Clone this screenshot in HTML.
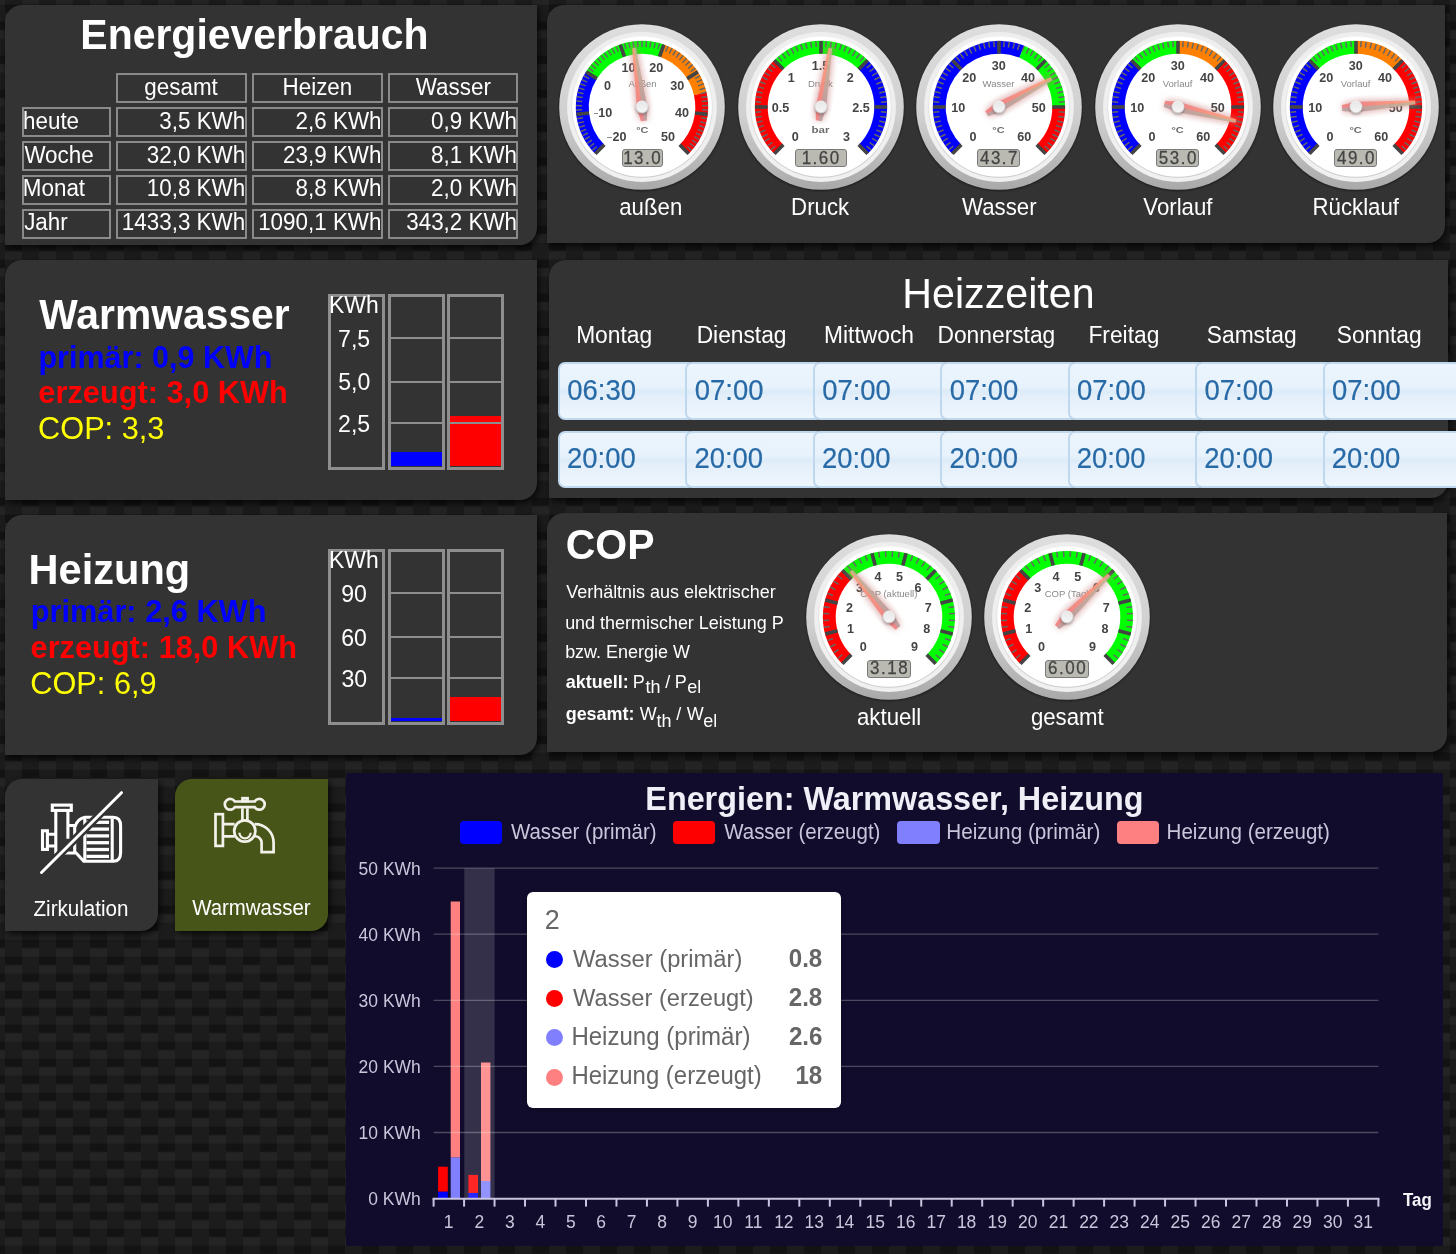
<!DOCTYPE html>
<html><head><meta charset="utf-8">
<style>
html,body{margin:0;padding:0;width:1456px;height:1254px;overflow:hidden;background:#1b1b1b;font-family:'Liberation Sans',sans-serif;}
.p{position:absolute;background:#333;border-radius:17px 0 17px 0;box-shadow:2px 3px 7px rgba(0,0,0,.75);}
</style></head><body>
<svg style="position:absolute;left:0;top:0" width="1456" height="1254">
<defs><pattern id="cf" x="5" y="4.6" width="34" height="34" patternUnits="userSpaceOnUse">
<rect x="0" y="0" width="17" height="8.5" fill="#131313"/>
<rect x="0" y="8.5" width="17" height="8.5" fill="#242424"/>
<rect x="0" y="17" width="17" height="17" fill="#1c1c1c"/>
<rect x="17" y="0" width="17" height="17" fill="#1c1c1c"/>
<rect x="17" y="17" width="17" height="8.5" fill="#131313"/>
<rect x="17" y="25.5" width="17" height="8.5" fill="#242424"/>
</pattern></defs>
<rect width="1456" height="1254" fill="url(#cf)"/>
</svg>
<div class="p" style="left:5px;top:5px;width:532px;height:240px;"></div>
<div class="p" style="left:547px;top:5px;width:898px;height:238px;"></div>
<div class="p" style="left:5px;top:260px;width:532px;height:240px;"></div>
<div class="p" style="left:549px;top:260px;width:899px;height:238px;"></div>
<div class="p" style="left:5px;top:515px;width:532px;height:240px;"></div>
<div class="p" style="left:547px;top:513px;width:900px;height:239px;"></div>
<div class="p" style="left:5px;top:779px;width:153px;height:152px;"></div>
<div class="p" style="left:175px;top:779px;width:153px;height:152px;background:#485519;"></div>
<div style="position:absolute;left:346px;top:773px;width:1097px;height:472.6px;background:#110c2b;"></div>

<div style="position:absolute;left:80.33px;top:13.24px;font:bold 40.96px/45.748px 'Liberation Sans',sans-serif;color:#fff;white-space:nowrap;transform:scaleY(1.045);transform-origin:0 37.06px;">Energieverbrauch</div>
<div style="position:absolute;left:116.10px;top:73.20px;width:130.60px;height:29.60px;box-sizing:border-box;border:2px solid #8a8a8a;"></div>
<div style="position:absolute;left:144.31px;top:75.02px;font:normal 22.41px/25.035px 'Liberation Sans',sans-serif;color:#fff;white-space:nowrap;transform:scaleY(1.045);transform-origin:0 20.28px;">gesamt</div>
<div style="position:absolute;left:252.20px;top:73.20px;width:130.80px;height:29.60px;box-sizing:border-box;border:2px solid #8a8a8a;"></div>
<div style="position:absolute;left:282.52px;top:75.02px;font:normal 22.41px/25.035px 'Liberation Sans',sans-serif;color:#fff;white-space:nowrap;transform:scaleY(1.045);transform-origin:0 20.28px;">Heizen</div>
<div style="position:absolute;left:388.10px;top:73.20px;width:130.40px;height:29.60px;box-sizing:border-box;border:2px solid #8a8a8a;"></div>
<div style="position:absolute;left:415.76px;top:75.02px;font:normal 22.41px/25.035px 'Liberation Sans',sans-serif;color:#fff;white-space:nowrap;transform:scaleY(1.045);transform-origin:0 20.28px;">Wasser</div>
<div style="position:absolute;left:22.20px;top:107.10px;width:88.60px;height:29.60px;box-sizing:border-box;border:2px solid #8a8a8a;"></div>
<div style="position:absolute;left:23.03px;top:108.72px;font:normal 22.41px/25.035px 'Liberation Sans',sans-serif;color:#fff;white-space:nowrap;transform:scaleY(1.045);transform-origin:0 20.28px;">heute</div>
<div style="position:absolute;left:116.10px;top:107.10px;width:130.60px;height:29.60px;box-sizing:border-box;border:2px solid #8a8a8a;"></div>
<div style="position:absolute;left:159.30px;top:108.72px;font:normal 22.41px/25.035px 'Liberation Sans',sans-serif;color:#fff;white-space:nowrap;transform:scaleY(1.045);transform-origin:0 20.28px;">3,5 KWh</div>
<div style="position:absolute;left:252.20px;top:107.10px;width:130.80px;height:29.60px;box-sizing:border-box;border:2px solid #8a8a8a;"></div>
<div style="position:absolute;left:295.60px;top:108.72px;font:normal 22.41px/25.035px 'Liberation Sans',sans-serif;color:#fff;white-space:nowrap;transform:scaleY(1.045);transform-origin:0 20.28px;">2,6 KWh</div>
<div style="position:absolute;left:388.10px;top:107.10px;width:130.40px;height:29.60px;box-sizing:border-box;border:2px solid #8a8a8a;"></div>
<div style="position:absolute;left:431.10px;top:108.72px;font:normal 22.41px/25.035px 'Liberation Sans',sans-serif;color:#fff;white-space:nowrap;transform:scaleY(1.045);transform-origin:0 20.28px;">0,9 KWh</div>
<div style="position:absolute;left:22.20px;top:141.00px;width:88.60px;height:29.60px;box-sizing:border-box;border:2px solid #8a8a8a;"></div>
<div style="position:absolute;left:24.38px;top:142.62px;font:normal 22.41px/25.035px 'Liberation Sans',sans-serif;color:#fff;white-space:nowrap;transform:scaleY(1.045);transform-origin:0 20.28px;">Woche</div>
<div style="position:absolute;left:116.10px;top:141.00px;width:130.60px;height:29.60px;box-sizing:border-box;border:2px solid #8a8a8a;"></div>
<div style="position:absolute;left:146.75px;top:142.62px;font:normal 22.41px/25.035px 'Liberation Sans',sans-serif;color:#fff;white-space:nowrap;transform:scaleY(1.045);transform-origin:0 20.28px;">32,0 KWh</div>
<div style="position:absolute;left:252.20px;top:141.00px;width:130.80px;height:29.60px;box-sizing:border-box;border:2px solid #8a8a8a;"></div>
<div style="position:absolute;left:283.05px;top:142.62px;font:normal 22.41px/25.035px 'Liberation Sans',sans-serif;color:#fff;white-space:nowrap;transform:scaleY(1.045);transform-origin:0 20.28px;">23,9 KWh</div>
<div style="position:absolute;left:388.10px;top:141.00px;width:130.40px;height:29.60px;box-sizing:border-box;border:2px solid #8a8a8a;"></div>
<div style="position:absolute;left:431.10px;top:142.62px;font:normal 22.41px/25.035px 'Liberation Sans',sans-serif;color:#fff;white-space:nowrap;transform:scaleY(1.045);transform-origin:0 20.28px;">8,1 KWh</div>
<div style="position:absolute;left:22.20px;top:175.20px;width:88.60px;height:29.60px;box-sizing:border-box;border:2px solid #8a8a8a;"></div>
<div style="position:absolute;left:22.81px;top:176.42px;font:normal 22.41px/25.035px 'Liberation Sans',sans-serif;color:#fff;white-space:nowrap;transform:scaleY(1.045);transform-origin:0 20.28px;">Monat</div>
<div style="position:absolute;left:116.10px;top:175.20px;width:130.60px;height:29.60px;box-sizing:border-box;border:2px solid #8a8a8a;"></div>
<div style="position:absolute;left:146.75px;top:176.42px;font:normal 22.41px/25.035px 'Liberation Sans',sans-serif;color:#fff;white-space:nowrap;transform:scaleY(1.045);transform-origin:0 20.28px;">10,8 KWh</div>
<div style="position:absolute;left:252.20px;top:175.20px;width:130.80px;height:29.60px;box-sizing:border-box;border:2px solid #8a8a8a;"></div>
<div style="position:absolute;left:295.60px;top:176.42px;font:normal 22.41px/25.035px 'Liberation Sans',sans-serif;color:#fff;white-space:nowrap;transform:scaleY(1.045);transform-origin:0 20.28px;">8,8 KWh</div>
<div style="position:absolute;left:388.10px;top:175.20px;width:130.40px;height:29.60px;box-sizing:border-box;border:2px solid #8a8a8a;"></div>
<div style="position:absolute;left:431.10px;top:176.42px;font:normal 22.41px/25.035px 'Liberation Sans',sans-serif;color:#fff;white-space:nowrap;transform:scaleY(1.045);transform-origin:0 20.28px;">2,0 KWh</div>
<div style="position:absolute;left:22.20px;top:209.20px;width:88.60px;height:29.60px;box-sizing:border-box;border:2px solid #8a8a8a;"></div>
<div style="position:absolute;left:24.15px;top:210.32px;font:normal 22.41px/25.035px 'Liberation Sans',sans-serif;color:#fff;white-space:nowrap;transform:scaleY(1.045);transform-origin:0 20.28px;">Jahr</div>
<div style="position:absolute;left:116.10px;top:209.20px;width:130.60px;height:29.60px;box-sizing:border-box;border:2px solid #8a8a8a;"></div>
<div style="position:absolute;left:121.87px;top:210.32px;font:normal 22.41px/25.035px 'Liberation Sans',sans-serif;color:#fff;white-space:nowrap;transform:scaleY(1.045);transform-origin:0 20.28px;">1433,3 KWh</div>
<div style="position:absolute;left:252.20px;top:209.20px;width:130.80px;height:29.60px;box-sizing:border-box;border:2px solid #8a8a8a;"></div>
<div style="position:absolute;left:258.17px;top:210.32px;font:normal 22.41px/25.035px 'Liberation Sans',sans-serif;color:#fff;white-space:nowrap;transform:scaleY(1.045);transform-origin:0 20.28px;">1090,1 KWh</div>
<div style="position:absolute;left:388.10px;top:209.20px;width:130.40px;height:29.60px;box-sizing:border-box;border:2px solid #8a8a8a;"></div>
<div style="position:absolute;left:406.23px;top:210.32px;font:normal 22.41px/25.035px 'Liberation Sans',sans-serif;color:#fff;white-space:nowrap;transform:scaleY(1.045);transform-origin:0 20.28px;">343,2 KWh</div>
<div style="position:absolute;left:39.30px;top:292.55px;font:bold 40.83px/45.611px 'Liberation Sans',sans-serif;color:#fff;white-space:nowrap;transform:scaleY(1.045);transform-origin:0 36.95px;">Warmwasser</div>
<div style="position:absolute;left:38.46px;top:339.87px;font:bold 30.53px/34.103px 'Liberation Sans',sans-serif;color:#0000ff;white-space:nowrap;transform:scaleY(1.045);transform-origin:0 27.63px;">primär: 0,9 KWh</div>
<div style="position:absolute;left:38.37px;top:375.67px;font:bold 30.75px/34.347px 'Liberation Sans',sans-serif;color:#ff0000;white-space:nowrap;transform:scaleY(1.045);transform-origin:0 27.83px;">erzeugt: 3,0 KWh</div>
<div style="position:absolute;left:38.06px;top:411.50px;font:normal 30.72px/34.316px 'Liberation Sans',sans-serif;color:#ffff00;white-space:nowrap;transform:scaleY(1.045);transform-origin:0 27.80px;">COP: 3,3</div>
<div style="position:absolute;left:328.10px;top:294.00px;width:56.95px;height:176.10px;box-sizing:border-box;border:3.1px solid #8e8e8e;"></div>
<div style="position:absolute;left:387.90px;top:294.00px;width:57.00px;height:176.10px;box-sizing:border-box;border:3.1px solid #8e8e8e;"></div>
<div style="position:absolute;left:447.00px;top:294.00px;width:57.00px;height:176.10px;box-sizing:border-box;border:3.1px solid #8e8e8e;"></div>
<div style="position:absolute;left:391.00px;top:452.00px;width:51.00px;height:14.20px;box-sizing:border-box;background:#0000ff;"></div>
<div style="position:absolute;left:450.00px;top:416.00px;width:51.00px;height:50.20px;box-sizing:border-box;background:#ff0000;"></div>
<div style="position:absolute;left:387.90px;top:336.90px;width:57.00px;height:2.15px;box-sizing:border-box;background:#8e8e8e;"></div>
<div style="position:absolute;left:447.00px;top:336.90px;width:57.00px;height:2.15px;box-sizing:border-box;background:#8e8e8e;"></div>
<div style="position:absolute;left:387.90px;top:381.10px;width:57.00px;height:2.15px;box-sizing:border-box;background:#8e8e8e;"></div>
<div style="position:absolute;left:447.00px;top:381.10px;width:57.00px;height:2.15px;box-sizing:border-box;background:#8e8e8e;"></div>
<div style="position:absolute;left:387.90px;top:421.90px;width:57.00px;height:2.15px;box-sizing:border-box;background:#8e8e8e;"></div>
<div style="position:absolute;left:447.00px;top:421.90px;width:57.00px;height:2.15px;box-sizing:border-box;background:#8e8e8e;"></div>
<div style="position:absolute;left:329.07px;top:293.06px;font:normal 22.92px/25.603px 'Liberation Sans',sans-serif;color:#fff;white-space:nowrap;transform:scaleY(1.045);transform-origin:0 20.74px;">KWh</div>
<div style="position:absolute;left:338.05px;top:326.82px;font:normal 23.08px/25.777px 'Liberation Sans',sans-serif;color:#fff;white-space:nowrap;transform:scaleY(1.045);transform-origin:0 20.88px;">7,5</div>
<div style="position:absolute;left:338.16px;top:370.32px;font:normal 23.08px/25.777px 'Liberation Sans',sans-serif;color:#fff;white-space:nowrap;transform:scaleY(1.045);transform-origin:0 20.88px;">5,0</div>
<div style="position:absolute;left:338.05px;top:411.82px;font:normal 23.08px/25.777px 'Liberation Sans',sans-serif;color:#fff;white-space:nowrap;transform:scaleY(1.045);transform-origin:0 20.88px;">2,5</div>
<div style="position:absolute;left:28.59px;top:547.10px;font:bold 41.55px/46.408px 'Liberation Sans',sans-serif;color:#fff;white-space:nowrap;transform:scaleY(1.045);transform-origin:0 37.60px;">Heizung</div>
<div style="position:absolute;left:30.65px;top:594.87px;font:bold 30.76px/34.354px 'Liberation Sans',sans-serif;color:#0000ff;white-space:nowrap;transform:scaleY(1.045);transform-origin:0 27.83px;">primär: 2,6 KWh</div>
<div style="position:absolute;left:30.57px;top:630.88px;font:bold 30.74px/34.331px 'Liberation Sans',sans-serif;color:#ff0000;white-space:nowrap;transform:scaleY(1.045);transform-origin:0 27.82px;">erzeugt: 18,0 KWh</div>
<div style="position:absolute;left:30.26px;top:666.70px;font:normal 30.72px/34.316px 'Liberation Sans',sans-serif;color:#ffff00;white-space:nowrap;transform:scaleY(1.045);transform-origin:0 27.80px;">COP: 6,9</div>
<div style="position:absolute;left:328.10px;top:549.20px;width:56.95px;height:176.10px;box-sizing:border-box;border:3.1px solid #8e8e8e;"></div>
<div style="position:absolute;left:387.90px;top:549.20px;width:57.00px;height:176.10px;box-sizing:border-box;border:3.1px solid #8e8e8e;"></div>
<div style="position:absolute;left:447.00px;top:549.20px;width:57.00px;height:176.10px;box-sizing:border-box;border:3.1px solid #8e8e8e;"></div>
<div style="position:absolute;left:391.00px;top:718.40px;width:51.00px;height:3.00px;box-sizing:border-box;background:#0000ff;"></div>
<div style="position:absolute;left:450.00px;top:696.80px;width:51.00px;height:24.60px;box-sizing:border-box;background:#ff0000;"></div>
<div style="position:absolute;left:387.90px;top:592.10px;width:57.00px;height:2.15px;box-sizing:border-box;background:#8e8e8e;"></div>
<div style="position:absolute;left:447.00px;top:592.10px;width:57.00px;height:2.15px;box-sizing:border-box;background:#8e8e8e;"></div>
<div style="position:absolute;left:387.90px;top:636.30px;width:57.00px;height:2.15px;box-sizing:border-box;background:#8e8e8e;"></div>
<div style="position:absolute;left:447.00px;top:636.30px;width:57.00px;height:2.15px;box-sizing:border-box;background:#8e8e8e;"></div>
<div style="position:absolute;left:387.90px;top:677.10px;width:57.00px;height:2.15px;box-sizing:border-box;background:#8e8e8e;"></div>
<div style="position:absolute;left:447.00px;top:677.10px;width:57.00px;height:2.15px;box-sizing:border-box;background:#8e8e8e;"></div>
<div style="position:absolute;left:329.07px;top:548.26px;font:normal 22.92px/25.603px 'Liberation Sans',sans-serif;color:#fff;white-space:nowrap;transform:scaleY(1.045);transform-origin:0 20.74px;">KWh</div>
<div style="position:absolute;left:341.28px;top:582.02px;font:normal 23.08px/25.777px 'Liberation Sans',sans-serif;color:#fff;white-space:nowrap;transform:scaleY(1.045);transform-origin:0 20.88px;">90</div>
<div style="position:absolute;left:341.28px;top:625.52px;font:normal 23.08px/25.777px 'Liberation Sans',sans-serif;color:#fff;white-space:nowrap;transform:scaleY(1.045);transform-origin:0 20.88px;">60</div>
<div style="position:absolute;left:341.39px;top:667.02px;font:normal 23.08px/25.777px 'Liberation Sans',sans-serif;color:#fff;white-space:nowrap;transform:scaleY(1.045);transform-origin:0 20.88px;">30</div>
<div style="position:absolute;left:902.30px;top:271.22px;font:normal 41.19px/46.014px 'Liberation Sans',sans-serif;color:#fff;white-space:nowrap;transform:scaleY(1.045);transform-origin:0 37.28px;">Heizzeiten</div>
<div style="position:absolute;left:576.13px;top:323.18px;font:normal 22.79px/25.456px 'Liberation Sans',sans-serif;color:#fff;white-space:nowrap;transform:scaleY(1.045);transform-origin:0 20.62px;">Montag</div>
<div style="position:absolute;left:696.63px;top:323.18px;font:normal 22.79px/25.456px 'Liberation Sans',sans-serif;color:#fff;white-space:nowrap;transform:scaleY(1.045);transform-origin:0 20.62px;">Dienstag</div>
<div style="position:absolute;left:824.08px;top:323.18px;font:normal 22.79px/25.456px 'Liberation Sans',sans-serif;color:#fff;white-space:nowrap;transform:scaleY(1.045);transform-origin:0 20.62px;">Mittwoch</div>
<div style="position:absolute;left:937.51px;top:323.18px;font:normal 22.79px/25.456px 'Liberation Sans',sans-serif;color:#fff;white-space:nowrap;transform:scaleY(1.045);transform-origin:0 20.62px;">Donnerstag</div>
<div style="position:absolute;left:1088.43px;top:323.18px;font:normal 22.79px/25.456px 'Liberation Sans',sans-serif;color:#fff;white-space:nowrap;transform:scaleY(1.045);transform-origin:0 20.62px;">Freitag</div>
<div style="position:absolute;left:1206.77px;top:323.18px;font:normal 22.79px/25.456px 'Liberation Sans',sans-serif;color:#fff;white-space:nowrap;transform:scaleY(1.045);transform-origin:0 20.62px;">Samstag</div>
<div style="position:absolute;left:1336.72px;top:323.18px;font:normal 22.79px/25.456px 'Liberation Sans',sans-serif;color:#fff;white-space:nowrap;transform:scaleY(1.045);transform-origin:0 20.62px;">Sonntag</div>
<div style="position:absolute;left:558.00px;top:362.20px;width:137.45px;height:57.50px;box-sizing:border-box;border:2px solid #bfd8ee;border-radius:7px;background:linear-gradient(#ecf5fd 0%,#e7f2fc 42%,#dcebf8 52%,#e4effa 60%,#eef6fd 100%);"></div>
<div style="position:absolute;left:685.45px;top:362.20px;width:137.45px;height:57.50px;box-sizing:border-box;border:2px solid #bfd8ee;border-radius:7px;background:linear-gradient(#ecf5fd 0%,#e7f2fc 42%,#dcebf8 52%,#e4effa 60%,#eef6fd 100%);"></div>
<div style="position:absolute;left:812.90px;top:362.20px;width:137.45px;height:57.50px;box-sizing:border-box;border:2px solid #bfd8ee;border-radius:7px;background:linear-gradient(#ecf5fd 0%,#e7f2fc 42%,#dcebf8 52%,#e4effa 60%,#eef6fd 100%);"></div>
<div style="position:absolute;left:940.35px;top:362.20px;width:137.45px;height:57.50px;box-sizing:border-box;border:2px solid #bfd8ee;border-radius:7px;background:linear-gradient(#ecf5fd 0%,#e7f2fc 42%,#dcebf8 52%,#e4effa 60%,#eef6fd 100%);"></div>
<div style="position:absolute;left:1067.80px;top:362.20px;width:137.45px;height:57.50px;box-sizing:border-box;border:2px solid #bfd8ee;border-radius:7px;background:linear-gradient(#ecf5fd 0%,#e7f2fc 42%,#dcebf8 52%,#e4effa 60%,#eef6fd 100%);"></div>
<div style="position:absolute;left:1195.25px;top:362.20px;width:137.45px;height:57.50px;box-sizing:border-box;border:2px solid #bfd8ee;border-radius:7px;background:linear-gradient(#ecf5fd 0%,#e7f2fc 42%,#dcebf8 52%,#e4effa 60%,#eef6fd 100%);"></div>
<div style="position:absolute;left:1322.70px;top:362.20px;width:145.00px;height:57.50px;box-sizing:border-box;border:2px solid #bfd8ee;border-radius:7px;background:linear-gradient(#ecf5fd 0%,#e7f2fc 42%,#dcebf8 52%,#e4effa 60%,#eef6fd 100%);"></div>
<div style="position:absolute;left:567.30px;top:375.87px;font:normal 27.44px/30.648px 'Liberation Sans',sans-serif;color:#286aa6;white-space:nowrap;transform:scaleY(1.045);transform-origin:0 24.83px;-webkit-text-stroke:0.2px #286aa6;">06:30</div>
<div style="position:absolute;left:694.75px;top:375.87px;font:normal 27.44px/30.648px 'Liberation Sans',sans-serif;color:#286aa6;white-space:nowrap;transform:scaleY(1.045);transform-origin:0 24.83px;-webkit-text-stroke:0.2px #286aa6;">07:00</div>
<div style="position:absolute;left:822.20px;top:375.87px;font:normal 27.44px/30.648px 'Liberation Sans',sans-serif;color:#286aa6;white-space:nowrap;transform:scaleY(1.045);transform-origin:0 24.83px;-webkit-text-stroke:0.2px #286aa6;">07:00</div>
<div style="position:absolute;left:949.65px;top:375.87px;font:normal 27.44px/30.648px 'Liberation Sans',sans-serif;color:#286aa6;white-space:nowrap;transform:scaleY(1.045);transform-origin:0 24.83px;-webkit-text-stroke:0.2px #286aa6;">07:00</div>
<div style="position:absolute;left:1077.10px;top:375.87px;font:normal 27.44px/30.648px 'Liberation Sans',sans-serif;color:#286aa6;white-space:nowrap;transform:scaleY(1.045);transform-origin:0 24.83px;-webkit-text-stroke:0.2px #286aa6;">07:00</div>
<div style="position:absolute;left:1204.55px;top:375.87px;font:normal 27.44px/30.648px 'Liberation Sans',sans-serif;color:#286aa6;white-space:nowrap;transform:scaleY(1.045);transform-origin:0 24.83px;-webkit-text-stroke:0.2px #286aa6;">07:00</div>
<div style="position:absolute;left:1332.00px;top:375.87px;font:normal 27.44px/30.648px 'Liberation Sans',sans-serif;color:#286aa6;white-space:nowrap;transform:scaleY(1.045);transform-origin:0 24.83px;-webkit-text-stroke:0.2px #286aa6;">07:00</div>
<div style="position:absolute;left:558.00px;top:430.70px;width:137.45px;height:56.90px;box-sizing:border-box;border:2px solid #bfd8ee;border-radius:7px;background:linear-gradient(#ecf5fd 0%,#e7f2fc 42%,#dcebf8 52%,#e4effa 60%,#eef6fd 100%);"></div>
<div style="position:absolute;left:685.45px;top:430.70px;width:137.45px;height:56.90px;box-sizing:border-box;border:2px solid #bfd8ee;border-radius:7px;background:linear-gradient(#ecf5fd 0%,#e7f2fc 42%,#dcebf8 52%,#e4effa 60%,#eef6fd 100%);"></div>
<div style="position:absolute;left:812.90px;top:430.70px;width:137.45px;height:56.90px;box-sizing:border-box;border:2px solid #bfd8ee;border-radius:7px;background:linear-gradient(#ecf5fd 0%,#e7f2fc 42%,#dcebf8 52%,#e4effa 60%,#eef6fd 100%);"></div>
<div style="position:absolute;left:940.35px;top:430.70px;width:137.45px;height:56.90px;box-sizing:border-box;border:2px solid #bfd8ee;border-radius:7px;background:linear-gradient(#ecf5fd 0%,#e7f2fc 42%,#dcebf8 52%,#e4effa 60%,#eef6fd 100%);"></div>
<div style="position:absolute;left:1067.80px;top:430.70px;width:137.45px;height:56.90px;box-sizing:border-box;border:2px solid #bfd8ee;border-radius:7px;background:linear-gradient(#ecf5fd 0%,#e7f2fc 42%,#dcebf8 52%,#e4effa 60%,#eef6fd 100%);"></div>
<div style="position:absolute;left:1195.25px;top:430.70px;width:137.45px;height:56.90px;box-sizing:border-box;border:2px solid #bfd8ee;border-radius:7px;background:linear-gradient(#ecf5fd 0%,#e7f2fc 42%,#dcebf8 52%,#e4effa 60%,#eef6fd 100%);"></div>
<div style="position:absolute;left:1322.70px;top:430.70px;width:145.00px;height:56.90px;box-sizing:border-box;border:2px solid #bfd8ee;border-radius:7px;background:linear-gradient(#ecf5fd 0%,#e7f2fc 42%,#dcebf8 52%,#e4effa 60%,#eef6fd 100%);"></div>
<div style="position:absolute;left:567.03px;top:444.47px;font:normal 27.44px/30.648px 'Liberation Sans',sans-serif;color:#286aa6;white-space:nowrap;transform:scaleY(1.045);transform-origin:0 24.83px;-webkit-text-stroke:0.2px #286aa6;">20:00</div>
<div style="position:absolute;left:694.48px;top:444.47px;font:normal 27.44px/30.648px 'Liberation Sans',sans-serif;color:#286aa6;white-space:nowrap;transform:scaleY(1.045);transform-origin:0 24.83px;-webkit-text-stroke:0.2px #286aa6;">20:00</div>
<div style="position:absolute;left:821.93px;top:444.47px;font:normal 27.44px/30.648px 'Liberation Sans',sans-serif;color:#286aa6;white-space:nowrap;transform:scaleY(1.045);transform-origin:0 24.83px;-webkit-text-stroke:0.2px #286aa6;">20:00</div>
<div style="position:absolute;left:949.38px;top:444.47px;font:normal 27.44px/30.648px 'Liberation Sans',sans-serif;color:#286aa6;white-space:nowrap;transform:scaleY(1.045);transform-origin:0 24.83px;-webkit-text-stroke:0.2px #286aa6;">20:00</div>
<div style="position:absolute;left:1076.83px;top:444.47px;font:normal 27.44px/30.648px 'Liberation Sans',sans-serif;color:#286aa6;white-space:nowrap;transform:scaleY(1.045);transform-origin:0 24.83px;-webkit-text-stroke:0.2px #286aa6;">20:00</div>
<div style="position:absolute;left:1204.28px;top:444.47px;font:normal 27.44px/30.648px 'Liberation Sans',sans-serif;color:#286aa6;white-space:nowrap;transform:scaleY(1.045);transform-origin:0 24.83px;-webkit-text-stroke:0.2px #286aa6;">20:00</div>
<div style="position:absolute;left:1331.73px;top:444.47px;font:normal 27.44px/30.648px 'Liberation Sans',sans-serif;color:#286aa6;white-space:nowrap;transform:scaleY(1.045);transform-origin:0 24.83px;-webkit-text-stroke:0.2px #286aa6;">20:00</div>
<div style="position:absolute;left:565.76px;top:522.89px;font:bold 41.00px/45.802px 'Liberation Sans',sans-serif;color:#fff;white-space:nowrap;transform:scaleY(1.045);transform-origin:0 37.11px;">COP</div>
<div style="position:absolute;left:566.22px;top:582.33px;font:normal 17.97px/20.077px 'Liberation Sans',sans-serif;color:#fff;white-space:nowrap;transform:scaleY(1.045);transform-origin:0 16.27px;">Verhältnis aus elektrischer</div>
<div style="position:absolute;left:565.14px;top:612.63px;font:normal 17.97px/20.077px 'Liberation Sans',sans-serif;color:#fff;white-space:nowrap;transform:scaleY(1.045);transform-origin:0 16.27px;">und thermischer Leistung P</div>
<div style="position:absolute;left:565.14px;top:642.03px;font:normal 17.97px/20.077px 'Liberation Sans',sans-serif;color:#fff;white-space:nowrap;transform:scaleY(1.045);transform-origin:0 16.27px;">bzw. Energie W</div>
<div style="position:absolute;left:565.86px;top:672.33px;font:bold 17.97px/20.077px 'Liberation Sans',sans-serif;color:#fff;white-space:nowrap;transform:scaleY(1.045);transform-origin:0 16.27px;">aktuell:</div>
<div style="position:absolute;left:632.66px;top:672.33px;font:normal 17.97px/20.077px 'Liberation Sans',sans-serif;color:#fff;white-space:nowrap;transform:scaleY(1.045);transform-origin:0 16.27px;">P</div>
<div style="position:absolute;left:645.54px;top:677.43px;font:normal 17.97px/20.077px 'Liberation Sans',sans-serif;color:#fff;white-space:nowrap;transform:scaleY(1.045);transform-origin:0 16.27px;">th</div>
<div style="position:absolute;left:665.20px;top:672.33px;font:normal 17.97px/20.077px 'Liberation Sans',sans-serif;color:#fff;white-space:nowrap;transform:scaleY(1.045);transform-origin:0 16.27px;">/</div>
<div style="position:absolute;left:674.76px;top:672.33px;font:normal 17.97px/20.077px 'Liberation Sans',sans-serif;color:#fff;white-space:nowrap;transform:scaleY(1.045);transform-origin:0 16.27px;">P</div>
<div style="position:absolute;left:687.28px;top:677.43px;font:normal 17.97px/20.077px 'Liberation Sans',sans-serif;color:#fff;white-space:nowrap;transform:scaleY(1.045);transform-origin:0 16.27px;">el</div>
<div style="position:absolute;left:565.68px;top:704.33px;font:bold 17.97px/20.077px 'Liberation Sans',sans-serif;color:#fff;white-space:nowrap;transform:scaleY(1.045);transform-origin:0 16.27px;">gesamt:</div>
<div style="position:absolute;left:639.82px;top:704.33px;font:normal 17.97px/20.077px 'Liberation Sans',sans-serif;color:#fff;white-space:nowrap;transform:scaleY(1.045);transform-origin:0 16.27px;">W</div>
<div style="position:absolute;left:656.44px;top:711.03px;font:normal 17.97px/20.077px 'Liberation Sans',sans-serif;color:#fff;white-space:nowrap;transform:scaleY(1.045);transform-origin:0 16.27px;">th</div>
<div style="position:absolute;left:676.20px;top:704.33px;font:normal 17.97px/20.077px 'Liberation Sans',sans-serif;color:#fff;white-space:nowrap;transform:scaleY(1.045);transform-origin:0 16.27px;">/</div>
<div style="position:absolute;left:686.82px;top:704.33px;font:normal 17.97px/20.077px 'Liberation Sans',sans-serif;color:#fff;white-space:nowrap;transform:scaleY(1.045);transform-origin:0 16.27px;">W</div>
<div style="position:absolute;left:703.18px;top:711.03px;font:normal 17.97px/20.077px 'Liberation Sans',sans-serif;color:#fff;white-space:nowrap;transform:scaleY(1.045);transform-origin:0 16.27px;">el</div>
<svg style="position:absolute;left:546.30px;top:10.60px;overflow:visible" width="192" height="192" viewBox="546.30 10.60 192 192">
<defs>
<linearGradient id="gOuter" x1="0" y1="0" x2="0" y2="1"><stop offset="0" stop-color="#dedede"/><stop offset="0.55" stop-color="#d0d0d0"/><stop offset="1" stop-color="#a9a9a9"/></linearGradient>
<linearGradient id="gMid" x1="0" y1="0" x2="0" y2="1"><stop offset="0" stop-color="#eeeeee"/><stop offset="1" stop-color="#f0f0f0"/></linearGradient>
<linearGradient id="gInner" x1="0" y1="0" x2="0" y2="1"><stop offset="0" stop-color="#fafafa"/><stop offset="1" stop-color="#cccccc"/></linearGradient>
<linearGradient id="gHubO" x1="0" y1="0" x2="0" y2="1"><stop offset="0" stop-color="#f0f0f0"/><stop offset="1" stop-color="#cccccc"/></linearGradient>
<linearGradient id="gHubI" x1="0" y1="0" x2="0" y2="1"><stop offset="0" stop-color="#e8e8e8"/><stop offset="1" stop-color="#f5f5f5"/></linearGradient>
<linearGradient id="gVB" x1="0" y1="0" x2="0" y2="1"><stop offset="0" stop-color="#888"/><stop offset="1" stop-color="#666"/></linearGradient>
<filter id="fBlur3" x="-50%" y="-50%" width="200%" height="200%"><feGaussianBlur stdDeviation="3.2"/></filter>
<filter id="fBlur2" x="-50%" y="-50%" width="200%" height="200%"><feGaussianBlur stdDeviation="1.2"/></filter>
</defs>
<circle cx="642.30" cy="107.40" r="83.10" fill="rgba(0,0,0,.45)" filter="url(#fBlur2)"/>
<circle cx="642.30" cy="106.60" r="82.80" fill="url(#gOuter)"/>
<circle cx="642.30" cy="106.60" r="74.90" fill="url(#gMid)"/>
<circle cx="642.30" cy="106.60" r="70.80" fill="url(#gInner)"/>
<circle cx="642.30" cy="106.60" r="69.80" fill="#fff"/>
<path d="M595.49 153.41 A66.20 66.20 0 0 1 586.25 71.38 L597.17 78.24 A53.30 53.30 0 0 0 604.61 144.29 Z" fill="#0000ff"/>
<path d="M586.25 71.38 A66.20 66.20 0 0 1 664.16 44.11 L659.90 56.29 A53.30 53.30 0 0 0 597.17 78.24 Z" fill="#00ff00"/>
<path d="M664.16 44.11 A66.20 66.20 0 0 1 706.84 91.87 L694.26 94.74 A53.30 53.30 0 0 0 659.90 56.29 Z" fill="#ff8000"/>
<path d="M706.84 91.87 A66.20 66.20 0 0 1 689.11 153.41 L679.99 144.29 A53.30 53.30 0 0 0 694.26 94.74 Z" fill="#ff0000"/>
<line x1="597.12" y1="146.08" x2="592.60" y2="150.02" stroke="#666" stroke-width="1.5"/>
<line x1="594.56" y1="142.95" x2="589.79" y2="146.58" stroke="#666" stroke-width="1.5"/>
<line x1="592.23" y1="139.65" x2="587.22" y2="142.96" stroke="#666" stroke-width="1.5"/>
<line x1="590.12" y1="136.21" x2="584.90" y2="139.17" stroke="#666" stroke-width="1.5"/>
<line x1="588.24" y1="132.63" x2="582.84" y2="135.24" stroke="#666" stroke-width="1.5"/>
<line x1="586.61" y1="128.94" x2="581.04" y2="131.17" stroke="#666" stroke-width="1.5"/>
<line x1="585.24" y1="125.14" x2="579.53" y2="127.00" stroke="#666" stroke-width="1.5"/>
<line x1="584.12" y1="121.26" x2="578.30" y2="122.73" stroke="#666" stroke-width="1.5"/>
<line x1="583.26" y1="117.31" x2="577.36" y2="118.38" stroke="#666" stroke-width="1.5"/>
<line x1="582.36" y1="109.29" x2="576.37" y2="109.56" stroke="#666" stroke-width="1.5"/>
<line x1="582.32" y1="105.25" x2="576.32" y2="105.12" stroke="#666" stroke-width="1.5"/>
<line x1="582.54" y1="101.22" x2="576.57" y2="100.68" stroke="#666" stroke-width="1.5"/>
<line x1="583.04" y1="97.21" x2="577.11" y2="96.28" stroke="#666" stroke-width="1.5"/>
<line x1="583.80" y1="93.25" x2="577.95" y2="91.91" stroke="#666" stroke-width="1.5"/>
<line x1="584.83" y1="89.34" x2="579.09" y2="87.62" stroke="#666" stroke-width="1.5"/>
<line x1="586.13" y1="85.52" x2="580.51" y2="83.41" stroke="#666" stroke-width="1.5"/>
<line x1="587.67" y1="81.79" x2="582.21" y2="79.31" stroke="#666" stroke-width="1.5"/>
<line x1="589.46" y1="78.17" x2="584.18" y2="75.32" stroke="#666" stroke-width="1.5"/>
<line x1="593.76" y1="71.33" x2="588.90" y2="67.81" stroke="#666" stroke-width="1.5"/>
<line x1="596.24" y1="68.15" x2="591.64" y2="64.30" stroke="#666" stroke-width="1.5"/>
<line x1="598.93" y1="65.14" x2="594.60" y2="60.99" stroke="#666" stroke-width="1.5"/>
<line x1="601.82" y1="62.31" x2="597.77" y2="57.88" stroke="#666" stroke-width="1.5"/>
<line x1="604.89" y1="59.69" x2="601.15" y2="55.00" stroke="#666" stroke-width="1.5"/>
<line x1="608.13" y1="57.28" x2="604.71" y2="52.35" stroke="#666" stroke-width="1.5"/>
<line x1="611.53" y1="55.09" x2="608.45" y2="49.94" stroke="#666" stroke-width="1.5"/>
<line x1="615.06" y1="53.14" x2="612.34" y2="47.79" stroke="#666" stroke-width="1.5"/>
<line x1="618.72" y1="51.43" x2="616.36" y2="45.91" stroke="#666" stroke-width="1.5"/>
<line x1="626.34" y1="48.76" x2="624.74" y2="42.98" stroke="#666" stroke-width="1.5"/>
<line x1="630.26" y1="47.82" x2="629.06" y2="41.94" stroke="#666" stroke-width="1.5"/>
<line x1="634.25" y1="47.14" x2="633.44" y2="41.20" stroke="#666" stroke-width="1.5"/>
<line x1="638.26" y1="46.74" x2="637.86" y2="40.75" stroke="#666" stroke-width="1.5"/>
<line x1="642.30" y1="46.60" x2="642.30" y2="40.60" stroke="#666" stroke-width="1.5"/>
<line x1="646.34" y1="46.74" x2="646.74" y2="40.75" stroke="#666" stroke-width="1.5"/>
<line x1="650.35" y1="47.14" x2="651.16" y2="41.20" stroke="#666" stroke-width="1.5"/>
<line x1="654.34" y1="47.82" x2="655.54" y2="41.94" stroke="#666" stroke-width="1.5"/>
<line x1="658.26" y1="48.76" x2="659.86" y2="42.98" stroke="#666" stroke-width="1.5"/>
<line x1="665.88" y1="51.43" x2="668.24" y2="45.91" stroke="#666" stroke-width="1.5"/>
<line x1="669.54" y1="53.14" x2="672.26" y2="47.79" stroke="#666" stroke-width="1.5"/>
<line x1="673.07" y1="55.09" x2="676.15" y2="49.94" stroke="#666" stroke-width="1.5"/>
<line x1="676.47" y1="57.28" x2="679.89" y2="52.35" stroke="#666" stroke-width="1.5"/>
<line x1="679.71" y1="59.69" x2="683.45" y2="55.00" stroke="#666" stroke-width="1.5"/>
<line x1="682.78" y1="62.31" x2="686.83" y2="57.88" stroke="#666" stroke-width="1.5"/>
<line x1="685.67" y1="65.14" x2="690.00" y2="60.99" stroke="#666" stroke-width="1.5"/>
<line x1="688.36" y1="68.15" x2="692.96" y2="64.30" stroke="#666" stroke-width="1.5"/>
<line x1="690.84" y1="71.33" x2="695.70" y2="67.81" stroke="#666" stroke-width="1.5"/>
<line x1="695.14" y1="78.17" x2="700.42" y2="75.32" stroke="#666" stroke-width="1.5"/>
<line x1="696.93" y1="81.79" x2="702.39" y2="79.31" stroke="#666" stroke-width="1.5"/>
<line x1="698.47" y1="85.52" x2="704.09" y2="83.41" stroke="#666" stroke-width="1.5"/>
<line x1="699.77" y1="89.34" x2="705.51" y2="87.62" stroke="#666" stroke-width="1.5"/>
<line x1="700.80" y1="93.25" x2="706.65" y2="91.91" stroke="#666" stroke-width="1.5"/>
<line x1="701.56" y1="97.21" x2="707.49" y2="96.28" stroke="#666" stroke-width="1.5"/>
<line x1="702.06" y1="101.22" x2="708.03" y2="100.68" stroke="#666" stroke-width="1.5"/>
<line x1="702.28" y1="105.25" x2="708.28" y2="105.12" stroke="#666" stroke-width="1.5"/>
<line x1="702.24" y1="109.29" x2="708.23" y2="109.56" stroke="#666" stroke-width="1.5"/>
<line x1="701.34" y1="117.31" x2="707.24" y2="118.38" stroke="#666" stroke-width="1.5"/>
<line x1="700.48" y1="121.26" x2="706.30" y2="122.73" stroke="#666" stroke-width="1.5"/>
<line x1="699.36" y1="125.14" x2="705.07" y2="127.00" stroke="#666" stroke-width="1.5"/>
<line x1="697.99" y1="128.94" x2="703.56" y2="131.17" stroke="#666" stroke-width="1.5"/>
<line x1="696.36" y1="132.63" x2="701.76" y2="135.24" stroke="#666" stroke-width="1.5"/>
<line x1="694.48" y1="136.21" x2="699.70" y2="139.17" stroke="#666" stroke-width="1.5"/>
<line x1="692.37" y1="139.65" x2="697.38" y2="142.96" stroke="#666" stroke-width="1.5"/>
<line x1="690.04" y1="142.95" x2="694.81" y2="146.58" stroke="#666" stroke-width="1.5"/>
<line x1="687.48" y1="146.08" x2="692.00" y2="150.02" stroke="#666" stroke-width="1.5"/>
<line x1="604.61" y1="144.29" x2="595.63" y2="153.27" stroke="#444" stroke-width="3.6"/>
<line x1="589.34" y1="112.57" x2="576.71" y2="113.99" stroke="#444" stroke-width="3.6"/>
<line x1="597.17" y1="78.24" x2="586.42" y2="71.49" stroke="#444" stroke-width="3.6"/>
<line x1="624.70" y1="56.29" x2="620.50" y2="44.30" stroke="#444" stroke-width="3.6"/>
<line x1="659.90" y1="56.29" x2="664.10" y2="44.30" stroke="#444" stroke-width="3.6"/>
<line x1="687.43" y1="78.24" x2="698.18" y2="71.49" stroke="#444" stroke-width="3.6"/>
<line x1="695.26" y1="112.57" x2="707.89" y2="113.99" stroke="#444" stroke-width="3.6"/>
<line x1="679.99" y1="144.29" x2="688.97" y2="153.27" stroke="#444" stroke-width="3.6"/>
</svg>
<div style="position:absolute;left:607.48px;top:136.87px;width:4.60px;height:1.1px;background:#8a8a8a"></div>
<div style="position:absolute;left:612.60px;top:129.72px;font:bold 12.60px/14.074px 'Liberation Sans',sans-serif;color:#444;white-space:nowrap;transform:scaleY(1.045);transform-origin:0 11.40px;">20</div>
<div style="position:absolute;left:593.55px;top:113.08px;width:4.60px;height:1.1px;background:#8a8a8a"></div>
<div style="position:absolute;left:598.29px;top:105.92px;font:bold 12.60px/14.074px 'Liberation Sans',sans-serif;color:#444;white-space:nowrap;transform:scaleY(1.045);transform-origin:0 11.40px;">10</div>
<div style="position:absolute;left:603.96px;top:78.75px;font:bold 12.60px/14.074px 'Liberation Sans',sans-serif;color:#444;white-space:nowrap;transform:scaleY(1.045);transform-origin:0 11.40px;">0</div>
<div style="position:absolute;left:621.39px;top:60.99px;font:bold 12.60px/14.074px 'Liberation Sans',sans-serif;color:#444;white-space:nowrap;transform:scaleY(1.045);transform-origin:0 11.40px;">10</div>
<div style="position:absolute;left:649.16px;top:60.99px;font:bold 12.60px/14.074px 'Liberation Sans',sans-serif;color:#444;white-space:nowrap;transform:scaleY(1.045);transform-origin:0 11.40px;">20</div>
<div style="position:absolute;left:670.31px;top:78.75px;font:bold 12.60px/14.074px 'Liberation Sans',sans-serif;color:#444;white-space:nowrap;transform:scaleY(1.045);transform-origin:0 11.40px;">30</div>
<div style="position:absolute;left:674.99px;top:105.92px;font:bold 12.60px/14.074px 'Liberation Sans',sans-serif;color:#444;white-space:nowrap;transform:scaleY(1.045);transform-origin:0 11.40px;">40</div>
<div style="position:absolute;left:660.99px;top:129.72px;font:bold 12.60px/14.074px 'Liberation Sans',sans-serif;color:#444;white-space:nowrap;transform:scaleY(1.045);transform-origin:0 11.40px;">50</div>
<div style="position:absolute;left:628.58px;top:78.68px;font:normal 9.53px/10.640px 'Liberation Sans',sans-serif;color:#888;white-space:nowrap;transform:scaleY(1.045);transform-origin:0 8.62px;">Außen</div>
<div style="position:absolute;left:636.16px;top:123.19px;font:bold 10.95px/12.234px 'Liberation Sans',sans-serif;color:#6a6a6a;white-space:nowrap;transform:scaleY(0.75);transform-origin:0 9.91px;">°C</div>
<div style="position:absolute;left:621.60px;top:149.30px;width:41.40px;height:18.00px;box-sizing:border-box;border:1.2px solid #7a7a7a;border-radius:3px;background:#babab2;"></div>
<div style="position:absolute;left:623.13px;top:148.52px;font:normal 17.00px/18.989px 'Liberation Sans',sans-serif;color:#444;white-space:nowrap;transform:scaleY(1.045);transform-origin:0 15.38px;letter-spacing:1.5px;-webkit-text-stroke:0.25px #444;">13.0</div>
<svg style="position:absolute;left:546.30px;top:10.60px;overflow:visible" width="192" height="192" viewBox="546.30 10.60 192 192">
<g transform="translate(642.30 106.60) rotate(172.29)">
<defs><linearGradient id="g1n" gradientUnits="userSpaceOnUse" x1="0" y1="0" x2="0" y2="59.5"><stop offset="0" stop-color="#f08080"/><stop offset="1" stop-color="#ffa07a"/></linearGradient></defs>
<polygon points="-3.00,-14.00 -5.20,0.00 -1.80,59.50 1.80,59.50 5.20,0.00 3.00,-14.00" fill="rgba(200,120,120,.55)" stroke="rgba(200,120,120,.45)" stroke-width="3" filter="url(#fBlur3)" transform="translate(0 2)"/>
<polygon points="-3.00,-14.00 -5.20,0.00 -1.80,59.50 1.80,59.50 5.20,0.00 3.00,-14.00" fill="url(#g1n)" fill-opacity="0.9"/>
<polygon points="0.00,-14.00 0.00,59.50 -1.80,59.50 -5.20,0.00 -3.00,-14.00" fill="rgba(2,255,255,.2)"/>
</g>
<circle cx="642.30" cy="108.10" r="6.6" fill="rgba(0,0,0,.25)" filter="url(#fBlur2)"/>
<circle cx="642.30" cy="106.60" r="6.5" fill="url(#gHubO)"/>
<circle cx="642.30" cy="106.60" r="5.3" fill="url(#gHubI)"/>
</svg>
<svg style="position:absolute;left:724.80px;top:10.60px;overflow:visible" width="192" height="192" viewBox="724.80 10.60 192 192">
<circle cx="820.80" cy="107.40" r="83.10" fill="rgba(0,0,0,.45)" filter="url(#fBlur2)"/>
<circle cx="820.80" cy="106.60" r="82.80" fill="url(#gOuter)"/>
<circle cx="820.80" cy="106.60" r="74.90" fill="url(#gMid)"/>
<circle cx="820.80" cy="106.60" r="70.80" fill="url(#gInner)"/>
<circle cx="820.80" cy="106.60" r="69.80" fill="#fff"/>
<path d="M773.99 153.41 A66.20 66.20 0 0 1 773.99 59.79 L783.11 68.91 A53.30 53.30 0 0 0 783.11 144.29 Z" fill="#ff0000"/>
<path d="M773.99 59.79 A66.20 66.20 0 0 1 867.61 59.79 L858.49 68.91 A53.30 53.30 0 0 0 783.11 68.91 Z" fill="#00ff00"/>
<path d="M867.61 59.79 A66.20 66.20 0 0 1 867.61 153.41 L858.49 144.29 A53.30 53.30 0 0 0 858.49 68.91 Z" fill="#0000ff"/>
<line x1="775.18" y1="145.57" x2="770.61" y2="149.46" stroke="#666" stroke-width="1.5"/>
<line x1="772.26" y1="141.87" x2="767.40" y2="145.39" stroke="#666" stroke-width="1.5"/>
<line x1="769.64" y1="137.95" x2="764.53" y2="141.08" stroke="#666" stroke-width="1.5"/>
<line x1="767.34" y1="133.84" x2="761.99" y2="136.56" stroke="#666" stroke-width="1.5"/>
<line x1="765.37" y1="129.56" x2="759.82" y2="131.86" stroke="#666" stroke-width="1.5"/>
<line x1="763.74" y1="125.14" x2="758.03" y2="127.00" stroke="#666" stroke-width="1.5"/>
<line x1="762.46" y1="120.61" x2="756.62" y2="122.01" stroke="#666" stroke-width="1.5"/>
<line x1="761.54" y1="115.99" x2="755.61" y2="116.92" stroke="#666" stroke-width="1.5"/>
<line x1="760.98" y1="111.31" x2="755.00" y2="111.78" stroke="#666" stroke-width="1.5"/>
<line x1="760.98" y1="101.89" x2="755.00" y2="101.42" stroke="#666" stroke-width="1.5"/>
<line x1="761.54" y1="97.21" x2="755.61" y2="96.28" stroke="#666" stroke-width="1.5"/>
<line x1="762.46" y1="92.59" x2="756.62" y2="91.19" stroke="#666" stroke-width="1.5"/>
<line x1="763.74" y1="88.06" x2="758.03" y2="86.20" stroke="#666" stroke-width="1.5"/>
<line x1="765.37" y1="83.64" x2="759.82" y2="81.34" stroke="#666" stroke-width="1.5"/>
<line x1="767.34" y1="79.36" x2="761.99" y2="76.64" stroke="#666" stroke-width="1.5"/>
<line x1="769.64" y1="75.25" x2="764.53" y2="72.12" stroke="#666" stroke-width="1.5"/>
<line x1="772.26" y1="71.33" x2="767.40" y2="67.81" stroke="#666" stroke-width="1.5"/>
<line x1="775.18" y1="67.63" x2="770.61" y2="63.74" stroke="#666" stroke-width="1.5"/>
<line x1="781.83" y1="60.98" x2="777.94" y2="56.41" stroke="#666" stroke-width="1.5"/>
<line x1="785.53" y1="58.06" x2="782.01" y2="53.20" stroke="#666" stroke-width="1.5"/>
<line x1="789.45" y1="55.44" x2="786.32" y2="50.33" stroke="#666" stroke-width="1.5"/>
<line x1="793.56" y1="53.14" x2="790.84" y2="47.79" stroke="#666" stroke-width="1.5"/>
<line x1="797.84" y1="51.17" x2="795.54" y2="45.62" stroke="#666" stroke-width="1.5"/>
<line x1="802.26" y1="49.54" x2="800.40" y2="43.83" stroke="#666" stroke-width="1.5"/>
<line x1="806.79" y1="48.26" x2="805.39" y2="42.42" stroke="#666" stroke-width="1.5"/>
<line x1="811.41" y1="47.34" x2="810.48" y2="41.41" stroke="#666" stroke-width="1.5"/>
<line x1="816.09" y1="46.78" x2="815.62" y2="40.80" stroke="#666" stroke-width="1.5"/>
<line x1="825.51" y1="46.78" x2="825.98" y2="40.80" stroke="#666" stroke-width="1.5"/>
<line x1="830.19" y1="47.34" x2="831.12" y2="41.41" stroke="#666" stroke-width="1.5"/>
<line x1="834.81" y1="48.26" x2="836.21" y2="42.42" stroke="#666" stroke-width="1.5"/>
<line x1="839.34" y1="49.54" x2="841.20" y2="43.83" stroke="#666" stroke-width="1.5"/>
<line x1="843.76" y1="51.17" x2="846.06" y2="45.62" stroke="#666" stroke-width="1.5"/>
<line x1="848.04" y1="53.14" x2="850.76" y2="47.79" stroke="#666" stroke-width="1.5"/>
<line x1="852.15" y1="55.44" x2="855.28" y2="50.33" stroke="#666" stroke-width="1.5"/>
<line x1="856.07" y1="58.06" x2="859.59" y2="53.20" stroke="#666" stroke-width="1.5"/>
<line x1="859.77" y1="60.98" x2="863.66" y2="56.41" stroke="#666" stroke-width="1.5"/>
<line x1="866.42" y1="67.63" x2="870.99" y2="63.74" stroke="#666" stroke-width="1.5"/>
<line x1="869.34" y1="71.33" x2="874.20" y2="67.81" stroke="#666" stroke-width="1.5"/>
<line x1="871.96" y1="75.25" x2="877.07" y2="72.12" stroke="#666" stroke-width="1.5"/>
<line x1="874.26" y1="79.36" x2="879.61" y2="76.64" stroke="#666" stroke-width="1.5"/>
<line x1="876.23" y1="83.64" x2="881.78" y2="81.34" stroke="#666" stroke-width="1.5"/>
<line x1="877.86" y1="88.06" x2="883.57" y2="86.20" stroke="#666" stroke-width="1.5"/>
<line x1="879.14" y1="92.59" x2="884.98" y2="91.19" stroke="#666" stroke-width="1.5"/>
<line x1="880.06" y1="97.21" x2="885.99" y2="96.28" stroke="#666" stroke-width="1.5"/>
<line x1="880.62" y1="101.89" x2="886.60" y2="101.42" stroke="#666" stroke-width="1.5"/>
<line x1="880.62" y1="111.31" x2="886.60" y2="111.78" stroke="#666" stroke-width="1.5"/>
<line x1="880.06" y1="115.99" x2="885.99" y2="116.92" stroke="#666" stroke-width="1.5"/>
<line x1="879.14" y1="120.61" x2="884.98" y2="122.01" stroke="#666" stroke-width="1.5"/>
<line x1="877.86" y1="125.14" x2="883.57" y2="127.00" stroke="#666" stroke-width="1.5"/>
<line x1="876.23" y1="129.56" x2="881.78" y2="131.86" stroke="#666" stroke-width="1.5"/>
<line x1="874.26" y1="133.84" x2="879.61" y2="136.56" stroke="#666" stroke-width="1.5"/>
<line x1="871.96" y1="137.95" x2="877.07" y2="141.08" stroke="#666" stroke-width="1.5"/>
<line x1="869.34" y1="141.87" x2="874.20" y2="145.39" stroke="#666" stroke-width="1.5"/>
<line x1="866.42" y1="145.57" x2="870.99" y2="149.46" stroke="#666" stroke-width="1.5"/>
<line x1="783.11" y1="144.29" x2="774.13" y2="153.27" stroke="#444" stroke-width="3.6"/>
<line x1="767.50" y1="106.60" x2="754.80" y2="106.60" stroke="#444" stroke-width="3.6"/>
<line x1="783.11" y1="68.91" x2="774.13" y2="59.93" stroke="#444" stroke-width="3.6"/>
<line x1="820.80" y1="53.30" x2="820.80" y2="40.60" stroke="#444" stroke-width="3.6"/>
<line x1="858.49" y1="68.91" x2="867.47" y2="59.93" stroke="#444" stroke-width="3.6"/>
<line x1="874.10" y1="106.60" x2="886.80" y2="106.60" stroke="#444" stroke-width="3.6"/>
<line x1="858.49" y1="144.29" x2="867.47" y2="153.27" stroke="#444" stroke-width="3.6"/>
</svg>
<div style="position:absolute;left:791.71px;top:129.72px;font:bold 12.60px/14.074px 'Liberation Sans',sans-serif;color:#444;white-space:nowrap;transform:scaleY(1.045);transform-origin:0 11.40px;">0</div>
<div style="position:absolute;left:771.86px;top:101.27px;font:bold 12.60px/14.074px 'Liberation Sans',sans-serif;color:#444;white-space:nowrap;transform:scaleY(1.045);transform-origin:0 11.40px;">0.5</div>
<div style="position:absolute;left:787.78px;top:71.23px;font:bold 12.60px/14.074px 'Liberation Sans',sans-serif;color:#444;white-space:nowrap;transform:scaleY(1.045);transform-origin:0 11.40px;">1</div>
<div style="position:absolute;left:811.85px;top:58.55px;font:bold 12.60px/14.074px 'Liberation Sans',sans-serif;color:#444;white-space:nowrap;transform:scaleY(1.045);transform-origin:0 11.40px;">1.5</div>
<div style="position:absolute;left:846.64px;top:71.23px;font:bold 12.60px/14.074px 'Liberation Sans',sans-serif;color:#444;white-space:nowrap;transform:scaleY(1.045);transform-origin:0 11.40px;">2</div>
<div style="position:absolute;left:852.16px;top:101.27px;font:bold 12.60px/14.074px 'Liberation Sans',sans-serif;color:#444;white-space:nowrap;transform:scaleY(1.045);transform-origin:0 11.40px;">2.5</div>
<div style="position:absolute;left:843.02px;top:129.72px;font:bold 12.60px/14.074px 'Liberation Sans',sans-serif;color:#444;white-space:nowrap;transform:scaleY(1.045);transform-origin:0 11.40px;">3</div>
<div style="position:absolute;left:807.99px;top:78.68px;font:normal 9.53px/10.640px 'Liberation Sans',sans-serif;color:#888;white-space:nowrap;transform:scaleY(1.045);transform-origin:0 8.62px;">Druck</div>
<div style="position:absolute;left:811.60px;top:122.70px;font:bold 11.50px/12.842px 'Liberation Sans',sans-serif;color:#6a6a6a;white-space:nowrap;transform:scaleY(0.75);transform-origin:0 10.40px;">bar</div>
<div style="position:absolute;left:795.00px;top:149.30px;width:51.60px;height:18.00px;box-sizing:border-box;border:1.2px solid #7a7a7a;border-radius:3px;background:#babab2;"></div>
<div style="position:absolute;left:801.63px;top:148.52px;font:normal 17.00px/18.989px 'Liberation Sans',sans-serif;color:#444;white-space:nowrap;transform:scaleY(1.045);transform-origin:0 15.38px;letter-spacing:1.5px;-webkit-text-stroke:0.25px #444;">1.60</div>
<svg style="position:absolute;left:724.80px;top:10.60px;overflow:visible" width="192" height="192" viewBox="724.80 10.60 192 192">
<g transform="translate(820.80 106.60) rotate(189.00)">
<defs><linearGradient id="g2n" gradientUnits="userSpaceOnUse" x1="0" y1="0" x2="0" y2="59.5"><stop offset="0" stop-color="#f08080"/><stop offset="1" stop-color="#ffa07a"/></linearGradient></defs>
<polygon points="-3.00,-14.00 -5.20,0.00 -1.80,59.50 1.80,59.50 5.20,0.00 3.00,-14.00" fill="rgba(200,120,120,.55)" stroke="rgba(200,120,120,.45)" stroke-width="3" filter="url(#fBlur3)" transform="translate(0 2)"/>
<polygon points="-3.00,-14.00 -5.20,0.00 -1.80,59.50 1.80,59.50 5.20,0.00 3.00,-14.00" fill="url(#g2n)" fill-opacity="0.9"/>
<polygon points="0.00,-14.00 0.00,59.50 -1.80,59.50 -5.20,0.00 -3.00,-14.00" fill="rgba(2,255,255,.2)"/>
</g>
<circle cx="820.80" cy="108.10" r="6.6" fill="rgba(0,0,0,.25)" filter="url(#fBlur2)"/>
<circle cx="820.80" cy="106.60" r="6.5" fill="url(#gHubO)"/>
<circle cx="820.80" cy="106.60" r="5.3" fill="url(#gHubI)"/>
</svg>
<svg style="position:absolute;left:902.50px;top:10.60px;overflow:visible" width="192" height="192" viewBox="902.50 10.60 192 192">
<circle cx="998.50" cy="107.40" r="83.10" fill="rgba(0,0,0,.45)" filter="url(#fBlur2)"/>
<circle cx="998.50" cy="106.60" r="82.80" fill="url(#gOuter)"/>
<circle cx="998.50" cy="106.60" r="74.90" fill="url(#gMid)"/>
<circle cx="998.50" cy="106.60" r="70.80" fill="url(#gInner)"/>
<circle cx="998.50" cy="106.60" r="69.80" fill="#fff"/>
<path d="M951.69 153.41 A66.20 66.20 0 0 1 1023.83 45.44 L1018.90 57.36 A53.30 53.30 0 0 0 960.81 144.29 Z" fill="#0000ff"/>
<path d="M1023.83 45.44 A66.20 66.20 0 0 1 1064.70 106.60 L1051.80 106.60 A53.30 53.30 0 0 0 1018.90 57.36 Z" fill="#00ff00"/>
<path d="M1064.70 106.60 A66.20 66.20 0 0 1 1045.31 153.41 L1036.19 144.29 A53.30 53.30 0 0 0 1051.80 106.60 Z" fill="#ff0000"/>
<line x1="952.88" y1="145.57" x2="948.31" y2="149.46" stroke="#666" stroke-width="1.5"/>
<line x1="949.96" y1="141.87" x2="945.10" y2="145.39" stroke="#666" stroke-width="1.5"/>
<line x1="947.34" y1="137.95" x2="942.23" y2="141.08" stroke="#666" stroke-width="1.5"/>
<line x1="945.04" y1="133.84" x2="939.69" y2="136.56" stroke="#666" stroke-width="1.5"/>
<line x1="943.07" y1="129.56" x2="937.52" y2="131.86" stroke="#666" stroke-width="1.5"/>
<line x1="941.44" y1="125.14" x2="935.73" y2="127.00" stroke="#666" stroke-width="1.5"/>
<line x1="940.16" y1="120.61" x2="934.32" y2="122.01" stroke="#666" stroke-width="1.5"/>
<line x1="939.24" y1="115.99" x2="933.31" y2="116.92" stroke="#666" stroke-width="1.5"/>
<line x1="938.68" y1="111.31" x2="932.70" y2="111.78" stroke="#666" stroke-width="1.5"/>
<line x1="938.68" y1="101.89" x2="932.70" y2="101.42" stroke="#666" stroke-width="1.5"/>
<line x1="939.24" y1="97.21" x2="933.31" y2="96.28" stroke="#666" stroke-width="1.5"/>
<line x1="940.16" y1="92.59" x2="934.32" y2="91.19" stroke="#666" stroke-width="1.5"/>
<line x1="941.44" y1="88.06" x2="935.73" y2="86.20" stroke="#666" stroke-width="1.5"/>
<line x1="943.07" y1="83.64" x2="937.52" y2="81.34" stroke="#666" stroke-width="1.5"/>
<line x1="945.04" y1="79.36" x2="939.69" y2="76.64" stroke="#666" stroke-width="1.5"/>
<line x1="947.34" y1="75.25" x2="942.23" y2="72.12" stroke="#666" stroke-width="1.5"/>
<line x1="949.96" y1="71.33" x2="945.10" y2="67.81" stroke="#666" stroke-width="1.5"/>
<line x1="952.88" y1="67.63" x2="948.31" y2="63.74" stroke="#666" stroke-width="1.5"/>
<line x1="959.53" y1="60.98" x2="955.64" y2="56.41" stroke="#666" stroke-width="1.5"/>
<line x1="963.23" y1="58.06" x2="959.71" y2="53.20" stroke="#666" stroke-width="1.5"/>
<line x1="967.15" y1="55.44" x2="964.02" y2="50.33" stroke="#666" stroke-width="1.5"/>
<line x1="971.26" y1="53.14" x2="968.54" y2="47.79" stroke="#666" stroke-width="1.5"/>
<line x1="975.54" y1="51.17" x2="973.24" y2="45.62" stroke="#666" stroke-width="1.5"/>
<line x1="979.96" y1="49.54" x2="978.10" y2="43.83" stroke="#666" stroke-width="1.5"/>
<line x1="984.49" y1="48.26" x2="983.09" y2="42.42" stroke="#666" stroke-width="1.5"/>
<line x1="989.11" y1="47.34" x2="988.18" y2="41.41" stroke="#666" stroke-width="1.5"/>
<line x1="993.79" y1="46.78" x2="993.32" y2="40.80" stroke="#666" stroke-width="1.5"/>
<line x1="1003.21" y1="46.78" x2="1003.68" y2="40.80" stroke="#666" stroke-width="1.5"/>
<line x1="1007.89" y1="47.34" x2="1008.82" y2="41.41" stroke="#666" stroke-width="1.5"/>
<line x1="1012.51" y1="48.26" x2="1013.91" y2="42.42" stroke="#666" stroke-width="1.5"/>
<line x1="1017.04" y1="49.54" x2="1018.90" y2="43.83" stroke="#666" stroke-width="1.5"/>
<line x1="1021.46" y1="51.17" x2="1023.76" y2="45.62" stroke="#666" stroke-width="1.5"/>
<line x1="1025.74" y1="53.14" x2="1028.46" y2="47.79" stroke="#666" stroke-width="1.5"/>
<line x1="1029.85" y1="55.44" x2="1032.98" y2="50.33" stroke="#666" stroke-width="1.5"/>
<line x1="1033.77" y1="58.06" x2="1037.29" y2="53.20" stroke="#666" stroke-width="1.5"/>
<line x1="1037.47" y1="60.98" x2="1041.36" y2="56.41" stroke="#666" stroke-width="1.5"/>
<line x1="1044.12" y1="67.63" x2="1048.69" y2="63.74" stroke="#666" stroke-width="1.5"/>
<line x1="1047.04" y1="71.33" x2="1051.90" y2="67.81" stroke="#666" stroke-width="1.5"/>
<line x1="1049.66" y1="75.25" x2="1054.77" y2="72.12" stroke="#666" stroke-width="1.5"/>
<line x1="1051.96" y1="79.36" x2="1057.31" y2="76.64" stroke="#666" stroke-width="1.5"/>
<line x1="1053.93" y1="83.64" x2="1059.48" y2="81.34" stroke="#666" stroke-width="1.5"/>
<line x1="1055.56" y1="88.06" x2="1061.27" y2="86.20" stroke="#666" stroke-width="1.5"/>
<line x1="1056.84" y1="92.59" x2="1062.68" y2="91.19" stroke="#666" stroke-width="1.5"/>
<line x1="1057.76" y1="97.21" x2="1063.69" y2="96.28" stroke="#666" stroke-width="1.5"/>
<line x1="1058.32" y1="101.89" x2="1064.30" y2="101.42" stroke="#666" stroke-width="1.5"/>
<line x1="1058.32" y1="111.31" x2="1064.30" y2="111.78" stroke="#666" stroke-width="1.5"/>
<line x1="1057.76" y1="115.99" x2="1063.69" y2="116.92" stroke="#666" stroke-width="1.5"/>
<line x1="1056.84" y1="120.61" x2="1062.68" y2="122.01" stroke="#666" stroke-width="1.5"/>
<line x1="1055.56" y1="125.14" x2="1061.27" y2="127.00" stroke="#666" stroke-width="1.5"/>
<line x1="1053.93" y1="129.56" x2="1059.48" y2="131.86" stroke="#666" stroke-width="1.5"/>
<line x1="1051.96" y1="133.84" x2="1057.31" y2="136.56" stroke="#666" stroke-width="1.5"/>
<line x1="1049.66" y1="137.95" x2="1054.77" y2="141.08" stroke="#666" stroke-width="1.5"/>
<line x1="1047.04" y1="141.87" x2="1051.90" y2="145.39" stroke="#666" stroke-width="1.5"/>
<line x1="1044.12" y1="145.57" x2="1048.69" y2="149.46" stroke="#666" stroke-width="1.5"/>
<line x1="960.81" y1="144.29" x2="951.83" y2="153.27" stroke="#444" stroke-width="3.6"/>
<line x1="945.20" y1="106.60" x2="932.50" y2="106.60" stroke="#444" stroke-width="3.6"/>
<line x1="960.81" y1="68.91" x2="951.83" y2="59.93" stroke="#444" stroke-width="3.6"/>
<line x1="998.50" y1="53.30" x2="998.50" y2="40.60" stroke="#444" stroke-width="3.6"/>
<line x1="1036.19" y1="68.91" x2="1045.17" y2="59.93" stroke="#444" stroke-width="3.6"/>
<line x1="1051.80" y1="106.60" x2="1064.50" y2="106.60" stroke="#444" stroke-width="3.6"/>
<line x1="1036.19" y1="144.29" x2="1045.17" y2="153.27" stroke="#444" stroke-width="3.6"/>
</svg>
<div style="position:absolute;left:969.41px;top:129.72px;font:bold 12.60px/14.074px 'Liberation Sans',sans-serif;color:#444;white-space:nowrap;transform:scaleY(1.045);transform-origin:0 11.40px;">0</div>
<div style="position:absolute;left:951.26px;top:101.27px;font:bold 12.60px/14.074px 'Liberation Sans',sans-serif;color:#444;white-space:nowrap;transform:scaleY(1.045);transform-origin:0 11.40px;">10</div>
<div style="position:absolute;left:962.27px;top:71.23px;font:bold 12.60px/14.074px 'Liberation Sans',sans-serif;color:#444;white-space:nowrap;transform:scaleY(1.045);transform-origin:0 11.40px;">20</div>
<div style="position:absolute;left:991.63px;top:58.55px;font:bold 12.60px/14.074px 'Liberation Sans',sans-serif;color:#444;white-space:nowrap;transform:scaleY(1.045);transform-origin:0 11.40px;">30</div>
<div style="position:absolute;left:1020.94px;top:71.23px;font:bold 12.60px/14.074px 'Liberation Sans',sans-serif;color:#444;white-space:nowrap;transform:scaleY(1.045);transform-origin:0 11.40px;">40</div>
<div style="position:absolute;left:1031.69px;top:101.27px;font:bold 12.60px/14.074px 'Liberation Sans',sans-serif;color:#444;white-space:nowrap;transform:scaleY(1.045);transform-origin:0 11.40px;">50</div>
<div style="position:absolute;left:1017.13px;top:129.72px;font:bold 12.60px/14.074px 'Liberation Sans',sans-serif;color:#444;white-space:nowrap;transform:scaleY(1.045);transform-origin:0 11.40px;">60</div>
<div style="position:absolute;left:982.54px;top:78.68px;font:normal 9.53px/10.640px 'Liberation Sans',sans-serif;color:#888;white-space:nowrap;transform:scaleY(1.045);transform-origin:0 8.62px;">Wasser</div>
<div style="position:absolute;left:992.36px;top:123.19px;font:bold 10.95px/12.234px 'Liberation Sans',sans-serif;color:#6a6a6a;white-space:nowrap;transform:scaleY(0.75);transform-origin:0 9.91px;">°C</div>
<div style="position:absolute;left:976.60px;top:149.30px;width:43.80px;height:18.00px;box-sizing:border-box;border:1.2px solid #7a7a7a;border-radius:3px;background:#babab2;"></div>
<div style="position:absolute;left:979.93px;top:148.52px;font:normal 17.00px/18.989px 'Liberation Sans',sans-serif;color:#444;white-space:nowrap;transform:scaleY(1.045);transform-origin:0 15.38px;letter-spacing:1.5px;-webkit-text-stroke:0.25px #444;">43.7</div>
<svg style="position:absolute;left:902.50px;top:10.60px;overflow:visible" width="192" height="192" viewBox="902.50 10.60 192 192">
<g transform="translate(998.50 106.60) rotate(241.65)">
<defs><linearGradient id="g3n" gradientUnits="userSpaceOnUse" x1="0" y1="0" x2="0" y2="59.5"><stop offset="0" stop-color="#f08080"/><stop offset="1" stop-color="#ffa07a"/></linearGradient></defs>
<polygon points="-3.00,-14.00 -5.20,0.00 -1.80,59.50 1.80,59.50 5.20,0.00 3.00,-14.00" fill="rgba(200,120,120,.55)" stroke="rgba(200,120,120,.45)" stroke-width="3" filter="url(#fBlur3)" transform="translate(0 2)"/>
<polygon points="-3.00,-14.00 -5.20,0.00 -1.80,59.50 1.80,59.50 5.20,0.00 3.00,-14.00" fill="url(#g3n)" fill-opacity="0.9"/>
<polygon points="0.00,-14.00 0.00,59.50 -1.80,59.50 -5.20,0.00 -3.00,-14.00" fill="rgba(2,255,255,.2)"/>
</g>
<circle cx="998.50" cy="108.10" r="6.6" fill="rgba(0,0,0,.25)" filter="url(#fBlur2)"/>
<circle cx="998.50" cy="106.60" r="6.5" fill="url(#gHubO)"/>
<circle cx="998.50" cy="106.60" r="5.3" fill="url(#gHubI)"/>
</svg>
<svg style="position:absolute;left:1081.60px;top:10.60px;overflow:visible" width="192" height="192" viewBox="1081.60 10.60 192 192">
<circle cx="1177.60" cy="107.40" r="83.10" fill="rgba(0,0,0,.45)" filter="url(#fBlur2)"/>
<circle cx="1177.60" cy="106.60" r="82.80" fill="url(#gOuter)"/>
<circle cx="1177.60" cy="106.60" r="74.90" fill="url(#gMid)"/>
<circle cx="1177.60" cy="106.60" r="70.80" fill="url(#gInner)"/>
<circle cx="1177.60" cy="106.60" r="69.80" fill="#fff"/>
<path d="M1130.79 153.41 A66.20 66.20 0 0 1 1130.79 59.79 L1139.91 68.91 A53.30 53.30 0 0 0 1139.91 144.29 Z" fill="#0000ff"/>
<path d="M1130.79 59.79 A66.20 66.20 0 0 1 1177.60 40.40 L1177.60 53.30 A53.30 53.30 0 0 0 1139.91 68.91 Z" fill="#00ff00"/>
<path d="M1177.60 40.40 A66.20 66.20 0 0 1 1224.41 59.79 L1215.29 68.91 A53.30 53.30 0 0 0 1177.60 53.30 Z" fill="#ff8000"/>
<path d="M1224.41 59.79 A66.20 66.20 0 0 1 1224.41 153.41 L1215.29 144.29 A53.30 53.30 0 0 0 1215.29 68.91 Z" fill="#ff0000"/>
<line x1="1131.98" y1="145.57" x2="1127.41" y2="149.46" stroke="#666" stroke-width="1.5"/>
<line x1="1129.06" y1="141.87" x2="1124.20" y2="145.39" stroke="#666" stroke-width="1.5"/>
<line x1="1126.44" y1="137.95" x2="1121.33" y2="141.08" stroke="#666" stroke-width="1.5"/>
<line x1="1124.14" y1="133.84" x2="1118.79" y2="136.56" stroke="#666" stroke-width="1.5"/>
<line x1="1122.17" y1="129.56" x2="1116.62" y2="131.86" stroke="#666" stroke-width="1.5"/>
<line x1="1120.54" y1="125.14" x2="1114.83" y2="127.00" stroke="#666" stroke-width="1.5"/>
<line x1="1119.26" y1="120.61" x2="1113.42" y2="122.01" stroke="#666" stroke-width="1.5"/>
<line x1="1118.34" y1="115.99" x2="1112.41" y2="116.92" stroke="#666" stroke-width="1.5"/>
<line x1="1117.78" y1="111.31" x2="1111.80" y2="111.78" stroke="#666" stroke-width="1.5"/>
<line x1="1117.78" y1="101.89" x2="1111.80" y2="101.42" stroke="#666" stroke-width="1.5"/>
<line x1="1118.34" y1="97.21" x2="1112.41" y2="96.28" stroke="#666" stroke-width="1.5"/>
<line x1="1119.26" y1="92.59" x2="1113.42" y2="91.19" stroke="#666" stroke-width="1.5"/>
<line x1="1120.54" y1="88.06" x2="1114.83" y2="86.20" stroke="#666" stroke-width="1.5"/>
<line x1="1122.17" y1="83.64" x2="1116.62" y2="81.34" stroke="#666" stroke-width="1.5"/>
<line x1="1124.14" y1="79.36" x2="1118.79" y2="76.64" stroke="#666" stroke-width="1.5"/>
<line x1="1126.44" y1="75.25" x2="1121.33" y2="72.12" stroke="#666" stroke-width="1.5"/>
<line x1="1129.06" y1="71.33" x2="1124.20" y2="67.81" stroke="#666" stroke-width="1.5"/>
<line x1="1131.98" y1="67.63" x2="1127.41" y2="63.74" stroke="#666" stroke-width="1.5"/>
<line x1="1138.63" y1="60.98" x2="1134.74" y2="56.41" stroke="#666" stroke-width="1.5"/>
<line x1="1142.33" y1="58.06" x2="1138.81" y2="53.20" stroke="#666" stroke-width="1.5"/>
<line x1="1146.25" y1="55.44" x2="1143.12" y2="50.33" stroke="#666" stroke-width="1.5"/>
<line x1="1150.36" y1="53.14" x2="1147.64" y2="47.79" stroke="#666" stroke-width="1.5"/>
<line x1="1154.64" y1="51.17" x2="1152.34" y2="45.62" stroke="#666" stroke-width="1.5"/>
<line x1="1159.06" y1="49.54" x2="1157.20" y2="43.83" stroke="#666" stroke-width="1.5"/>
<line x1="1163.59" y1="48.26" x2="1162.19" y2="42.42" stroke="#666" stroke-width="1.5"/>
<line x1="1168.21" y1="47.34" x2="1167.28" y2="41.41" stroke="#666" stroke-width="1.5"/>
<line x1="1172.89" y1="46.78" x2="1172.42" y2="40.80" stroke="#666" stroke-width="1.5"/>
<line x1="1182.31" y1="46.78" x2="1182.78" y2="40.80" stroke="#666" stroke-width="1.5"/>
<line x1="1186.99" y1="47.34" x2="1187.92" y2="41.41" stroke="#666" stroke-width="1.5"/>
<line x1="1191.61" y1="48.26" x2="1193.01" y2="42.42" stroke="#666" stroke-width="1.5"/>
<line x1="1196.14" y1="49.54" x2="1198.00" y2="43.83" stroke="#666" stroke-width="1.5"/>
<line x1="1200.56" y1="51.17" x2="1202.86" y2="45.62" stroke="#666" stroke-width="1.5"/>
<line x1="1204.84" y1="53.14" x2="1207.56" y2="47.79" stroke="#666" stroke-width="1.5"/>
<line x1="1208.95" y1="55.44" x2="1212.08" y2="50.33" stroke="#666" stroke-width="1.5"/>
<line x1="1212.87" y1="58.06" x2="1216.39" y2="53.20" stroke="#666" stroke-width="1.5"/>
<line x1="1216.57" y1="60.98" x2="1220.46" y2="56.41" stroke="#666" stroke-width="1.5"/>
<line x1="1223.22" y1="67.63" x2="1227.79" y2="63.74" stroke="#666" stroke-width="1.5"/>
<line x1="1226.14" y1="71.33" x2="1231.00" y2="67.81" stroke="#666" stroke-width="1.5"/>
<line x1="1228.76" y1="75.25" x2="1233.87" y2="72.12" stroke="#666" stroke-width="1.5"/>
<line x1="1231.06" y1="79.36" x2="1236.41" y2="76.64" stroke="#666" stroke-width="1.5"/>
<line x1="1233.03" y1="83.64" x2="1238.58" y2="81.34" stroke="#666" stroke-width="1.5"/>
<line x1="1234.66" y1="88.06" x2="1240.37" y2="86.20" stroke="#666" stroke-width="1.5"/>
<line x1="1235.94" y1="92.59" x2="1241.78" y2="91.19" stroke="#666" stroke-width="1.5"/>
<line x1="1236.86" y1="97.21" x2="1242.79" y2="96.28" stroke="#666" stroke-width="1.5"/>
<line x1="1237.42" y1="101.89" x2="1243.40" y2="101.42" stroke="#666" stroke-width="1.5"/>
<line x1="1237.42" y1="111.31" x2="1243.40" y2="111.78" stroke="#666" stroke-width="1.5"/>
<line x1="1236.86" y1="115.99" x2="1242.79" y2="116.92" stroke="#666" stroke-width="1.5"/>
<line x1="1235.94" y1="120.61" x2="1241.78" y2="122.01" stroke="#666" stroke-width="1.5"/>
<line x1="1234.66" y1="125.14" x2="1240.37" y2="127.00" stroke="#666" stroke-width="1.5"/>
<line x1="1233.03" y1="129.56" x2="1238.58" y2="131.86" stroke="#666" stroke-width="1.5"/>
<line x1="1231.06" y1="133.84" x2="1236.41" y2="136.56" stroke="#666" stroke-width="1.5"/>
<line x1="1228.76" y1="137.95" x2="1233.87" y2="141.08" stroke="#666" stroke-width="1.5"/>
<line x1="1226.14" y1="141.87" x2="1231.00" y2="145.39" stroke="#666" stroke-width="1.5"/>
<line x1="1223.22" y1="145.57" x2="1227.79" y2="149.46" stroke="#666" stroke-width="1.5"/>
<line x1="1139.91" y1="144.29" x2="1130.93" y2="153.27" stroke="#444" stroke-width="3.6"/>
<line x1="1124.30" y1="106.60" x2="1111.60" y2="106.60" stroke="#444" stroke-width="3.6"/>
<line x1="1139.91" y1="68.91" x2="1130.93" y2="59.93" stroke="#444" stroke-width="3.6"/>
<line x1="1177.60" y1="53.30" x2="1177.60" y2="40.60" stroke="#444" stroke-width="3.6"/>
<line x1="1215.29" y1="68.91" x2="1224.27" y2="59.93" stroke="#444" stroke-width="3.6"/>
<line x1="1230.90" y1="106.60" x2="1243.60" y2="106.60" stroke="#444" stroke-width="3.6"/>
<line x1="1215.29" y1="144.29" x2="1224.27" y2="153.27" stroke="#444" stroke-width="3.6"/>
</svg>
<div style="position:absolute;left:1148.51px;top:129.72px;font:bold 12.60px/14.074px 'Liberation Sans',sans-serif;color:#444;white-space:nowrap;transform:scaleY(1.045);transform-origin:0 11.40px;">0</div>
<div style="position:absolute;left:1130.36px;top:101.27px;font:bold 12.60px/14.074px 'Liberation Sans',sans-serif;color:#444;white-space:nowrap;transform:scaleY(1.045);transform-origin:0 11.40px;">10</div>
<div style="position:absolute;left:1141.37px;top:71.23px;font:bold 12.60px/14.074px 'Liberation Sans',sans-serif;color:#444;white-space:nowrap;transform:scaleY(1.045);transform-origin:0 11.40px;">20</div>
<div style="position:absolute;left:1170.73px;top:58.55px;font:bold 12.60px/14.074px 'Liberation Sans',sans-serif;color:#444;white-space:nowrap;transform:scaleY(1.045);transform-origin:0 11.40px;">30</div>
<div style="position:absolute;left:1200.04px;top:71.23px;font:bold 12.60px/14.074px 'Liberation Sans',sans-serif;color:#444;white-space:nowrap;transform:scaleY(1.045);transform-origin:0 11.40px;">40</div>
<div style="position:absolute;left:1210.79px;top:101.27px;font:bold 12.60px/14.074px 'Liberation Sans',sans-serif;color:#444;white-space:nowrap;transform:scaleY(1.045);transform-origin:0 11.40px;">50</div>
<div style="position:absolute;left:1196.23px;top:129.72px;font:bold 12.60px/14.074px 'Liberation Sans',sans-serif;color:#444;white-space:nowrap;transform:scaleY(1.045);transform-origin:0 11.40px;">60</div>
<div style="position:absolute;left:1162.74px;top:78.68px;font:normal 9.53px/10.640px 'Liberation Sans',sans-serif;color:#888;white-space:nowrap;transform:scaleY(1.045);transform-origin:0 8.62px;">Vorlauf</div>
<div style="position:absolute;left:1171.46px;top:123.19px;font:bold 10.95px/12.234px 'Liberation Sans',sans-serif;color:#6a6a6a;white-space:nowrap;transform:scaleY(0.75);transform-origin:0 9.91px;">°C</div>
<div style="position:absolute;left:1156.00px;top:149.30px;width:43.20px;height:18.00px;box-sizing:border-box;border:1.2px solid #7a7a7a;border-radius:3px;background:#babab2;"></div>
<div style="position:absolute;left:1158.77px;top:148.52px;font:normal 17.00px/18.989px 'Liberation Sans',sans-serif;color:#444;white-space:nowrap;transform:scaleY(1.045);transform-origin:0 15.38px;letter-spacing:1.5px;-webkit-text-stroke:0.25px #444;">53.0</div>
<svg style="position:absolute;left:1081.60px;top:10.60px;overflow:visible" width="192" height="192" viewBox="1081.60 10.60 192 192">
<g transform="translate(1177.60 106.60) rotate(283.50)">
<defs><linearGradient id="g4n" gradientUnits="userSpaceOnUse" x1="0" y1="0" x2="0" y2="59.5"><stop offset="0" stop-color="#f08080"/><stop offset="1" stop-color="#ffa07a"/></linearGradient></defs>
<polygon points="-3.00,-14.00 -5.20,0.00 -1.80,59.50 1.80,59.50 5.20,0.00 3.00,-14.00" fill="rgba(200,120,120,.55)" stroke="rgba(200,120,120,.45)" stroke-width="3" filter="url(#fBlur3)" transform="translate(0 2)"/>
<polygon points="-3.00,-14.00 -5.20,0.00 -1.80,59.50 1.80,59.50 5.20,0.00 3.00,-14.00" fill="url(#g4n)" fill-opacity="0.9"/>
<polygon points="0.00,-14.00 0.00,59.50 -1.80,59.50 -5.20,0.00 -3.00,-14.00" fill="rgba(2,255,255,.2)"/>
</g>
<circle cx="1177.60" cy="108.10" r="6.6" fill="rgba(0,0,0,.25)" filter="url(#fBlur2)"/>
<circle cx="1177.60" cy="106.60" r="6.5" fill="url(#gHubO)"/>
<circle cx="1177.60" cy="106.60" r="5.3" fill="url(#gHubI)"/>
</svg>
<svg style="position:absolute;left:1259.60px;top:10.60px;overflow:visible" width="192" height="192" viewBox="1259.60 10.60 192 192">
<circle cx="1355.60" cy="107.40" r="83.10" fill="rgba(0,0,0,.45)" filter="url(#fBlur2)"/>
<circle cx="1355.60" cy="106.60" r="82.80" fill="url(#gOuter)"/>
<circle cx="1355.60" cy="106.60" r="74.90" fill="url(#gMid)"/>
<circle cx="1355.60" cy="106.60" r="70.80" fill="url(#gInner)"/>
<circle cx="1355.60" cy="106.60" r="69.80" fill="#fff"/>
<path d="M1308.79 153.41 A66.20 66.20 0 0 1 1308.79 59.79 L1317.91 68.91 A53.30 53.30 0 0 0 1317.91 144.29 Z" fill="#0000ff"/>
<path d="M1308.79 59.79 A66.20 66.20 0 0 1 1355.60 40.40 L1355.60 53.30 A53.30 53.30 0 0 0 1317.91 68.91 Z" fill="#00ff00"/>
<path d="M1355.60 40.40 A66.20 66.20 0 0 1 1402.41 59.79 L1393.29 68.91 A53.30 53.30 0 0 0 1355.60 53.30 Z" fill="#ff8000"/>
<path d="M1402.41 59.79 A66.20 66.20 0 0 1 1402.41 153.41 L1393.29 144.29 A53.30 53.30 0 0 0 1393.29 68.91 Z" fill="#ff0000"/>
<line x1="1309.98" y1="145.57" x2="1305.41" y2="149.46" stroke="#666" stroke-width="1.5"/>
<line x1="1307.06" y1="141.87" x2="1302.20" y2="145.39" stroke="#666" stroke-width="1.5"/>
<line x1="1304.44" y1="137.95" x2="1299.33" y2="141.08" stroke="#666" stroke-width="1.5"/>
<line x1="1302.14" y1="133.84" x2="1296.79" y2="136.56" stroke="#666" stroke-width="1.5"/>
<line x1="1300.17" y1="129.56" x2="1294.62" y2="131.86" stroke="#666" stroke-width="1.5"/>
<line x1="1298.54" y1="125.14" x2="1292.83" y2="127.00" stroke="#666" stroke-width="1.5"/>
<line x1="1297.26" y1="120.61" x2="1291.42" y2="122.01" stroke="#666" stroke-width="1.5"/>
<line x1="1296.34" y1="115.99" x2="1290.41" y2="116.92" stroke="#666" stroke-width="1.5"/>
<line x1="1295.78" y1="111.31" x2="1289.80" y2="111.78" stroke="#666" stroke-width="1.5"/>
<line x1="1295.78" y1="101.89" x2="1289.80" y2="101.42" stroke="#666" stroke-width="1.5"/>
<line x1="1296.34" y1="97.21" x2="1290.41" y2="96.28" stroke="#666" stroke-width="1.5"/>
<line x1="1297.26" y1="92.59" x2="1291.42" y2="91.19" stroke="#666" stroke-width="1.5"/>
<line x1="1298.54" y1="88.06" x2="1292.83" y2="86.20" stroke="#666" stroke-width="1.5"/>
<line x1="1300.17" y1="83.64" x2="1294.62" y2="81.34" stroke="#666" stroke-width="1.5"/>
<line x1="1302.14" y1="79.36" x2="1296.79" y2="76.64" stroke="#666" stroke-width="1.5"/>
<line x1="1304.44" y1="75.25" x2="1299.33" y2="72.12" stroke="#666" stroke-width="1.5"/>
<line x1="1307.06" y1="71.33" x2="1302.20" y2="67.81" stroke="#666" stroke-width="1.5"/>
<line x1="1309.98" y1="67.63" x2="1305.41" y2="63.74" stroke="#666" stroke-width="1.5"/>
<line x1="1316.63" y1="60.98" x2="1312.74" y2="56.41" stroke="#666" stroke-width="1.5"/>
<line x1="1320.33" y1="58.06" x2="1316.81" y2="53.20" stroke="#666" stroke-width="1.5"/>
<line x1="1324.25" y1="55.44" x2="1321.12" y2="50.33" stroke="#666" stroke-width="1.5"/>
<line x1="1328.36" y1="53.14" x2="1325.64" y2="47.79" stroke="#666" stroke-width="1.5"/>
<line x1="1332.64" y1="51.17" x2="1330.34" y2="45.62" stroke="#666" stroke-width="1.5"/>
<line x1="1337.06" y1="49.54" x2="1335.20" y2="43.83" stroke="#666" stroke-width="1.5"/>
<line x1="1341.59" y1="48.26" x2="1340.19" y2="42.42" stroke="#666" stroke-width="1.5"/>
<line x1="1346.21" y1="47.34" x2="1345.28" y2="41.41" stroke="#666" stroke-width="1.5"/>
<line x1="1350.89" y1="46.78" x2="1350.42" y2="40.80" stroke="#666" stroke-width="1.5"/>
<line x1="1360.31" y1="46.78" x2="1360.78" y2="40.80" stroke="#666" stroke-width="1.5"/>
<line x1="1364.99" y1="47.34" x2="1365.92" y2="41.41" stroke="#666" stroke-width="1.5"/>
<line x1="1369.61" y1="48.26" x2="1371.01" y2="42.42" stroke="#666" stroke-width="1.5"/>
<line x1="1374.14" y1="49.54" x2="1376.00" y2="43.83" stroke="#666" stroke-width="1.5"/>
<line x1="1378.56" y1="51.17" x2="1380.86" y2="45.62" stroke="#666" stroke-width="1.5"/>
<line x1="1382.84" y1="53.14" x2="1385.56" y2="47.79" stroke="#666" stroke-width="1.5"/>
<line x1="1386.95" y1="55.44" x2="1390.08" y2="50.33" stroke="#666" stroke-width="1.5"/>
<line x1="1390.87" y1="58.06" x2="1394.39" y2="53.20" stroke="#666" stroke-width="1.5"/>
<line x1="1394.57" y1="60.98" x2="1398.46" y2="56.41" stroke="#666" stroke-width="1.5"/>
<line x1="1401.22" y1="67.63" x2="1405.79" y2="63.74" stroke="#666" stroke-width="1.5"/>
<line x1="1404.14" y1="71.33" x2="1409.00" y2="67.81" stroke="#666" stroke-width="1.5"/>
<line x1="1406.76" y1="75.25" x2="1411.87" y2="72.12" stroke="#666" stroke-width="1.5"/>
<line x1="1409.06" y1="79.36" x2="1414.41" y2="76.64" stroke="#666" stroke-width="1.5"/>
<line x1="1411.03" y1="83.64" x2="1416.58" y2="81.34" stroke="#666" stroke-width="1.5"/>
<line x1="1412.66" y1="88.06" x2="1418.37" y2="86.20" stroke="#666" stroke-width="1.5"/>
<line x1="1413.94" y1="92.59" x2="1419.78" y2="91.19" stroke="#666" stroke-width="1.5"/>
<line x1="1414.86" y1="97.21" x2="1420.79" y2="96.28" stroke="#666" stroke-width="1.5"/>
<line x1="1415.42" y1="101.89" x2="1421.40" y2="101.42" stroke="#666" stroke-width="1.5"/>
<line x1="1415.42" y1="111.31" x2="1421.40" y2="111.78" stroke="#666" stroke-width="1.5"/>
<line x1="1414.86" y1="115.99" x2="1420.79" y2="116.92" stroke="#666" stroke-width="1.5"/>
<line x1="1413.94" y1="120.61" x2="1419.78" y2="122.01" stroke="#666" stroke-width="1.5"/>
<line x1="1412.66" y1="125.14" x2="1418.37" y2="127.00" stroke="#666" stroke-width="1.5"/>
<line x1="1411.03" y1="129.56" x2="1416.58" y2="131.86" stroke="#666" stroke-width="1.5"/>
<line x1="1409.06" y1="133.84" x2="1414.41" y2="136.56" stroke="#666" stroke-width="1.5"/>
<line x1="1406.76" y1="137.95" x2="1411.87" y2="141.08" stroke="#666" stroke-width="1.5"/>
<line x1="1404.14" y1="141.87" x2="1409.00" y2="145.39" stroke="#666" stroke-width="1.5"/>
<line x1="1401.22" y1="145.57" x2="1405.79" y2="149.46" stroke="#666" stroke-width="1.5"/>
<line x1="1317.91" y1="144.29" x2="1308.93" y2="153.27" stroke="#444" stroke-width="3.6"/>
<line x1="1302.30" y1="106.60" x2="1289.60" y2="106.60" stroke="#444" stroke-width="3.6"/>
<line x1="1317.91" y1="68.91" x2="1308.93" y2="59.93" stroke="#444" stroke-width="3.6"/>
<line x1="1355.60" y1="53.30" x2="1355.60" y2="40.60" stroke="#444" stroke-width="3.6"/>
<line x1="1393.29" y1="68.91" x2="1402.27" y2="59.93" stroke="#444" stroke-width="3.6"/>
<line x1="1408.90" y1="106.60" x2="1421.60" y2="106.60" stroke="#444" stroke-width="3.6"/>
<line x1="1393.29" y1="144.29" x2="1402.27" y2="153.27" stroke="#444" stroke-width="3.6"/>
</svg>
<div style="position:absolute;left:1326.51px;top:129.72px;font:bold 12.60px/14.074px 'Liberation Sans',sans-serif;color:#444;white-space:nowrap;transform:scaleY(1.045);transform-origin:0 11.40px;">0</div>
<div style="position:absolute;left:1308.36px;top:101.27px;font:bold 12.60px/14.074px 'Liberation Sans',sans-serif;color:#444;white-space:nowrap;transform:scaleY(1.045);transform-origin:0 11.40px;">10</div>
<div style="position:absolute;left:1319.37px;top:71.23px;font:bold 12.60px/14.074px 'Liberation Sans',sans-serif;color:#444;white-space:nowrap;transform:scaleY(1.045);transform-origin:0 11.40px;">20</div>
<div style="position:absolute;left:1348.73px;top:58.55px;font:bold 12.60px/14.074px 'Liberation Sans',sans-serif;color:#444;white-space:nowrap;transform:scaleY(1.045);transform-origin:0 11.40px;">30</div>
<div style="position:absolute;left:1378.04px;top:71.23px;font:bold 12.60px/14.074px 'Liberation Sans',sans-serif;color:#444;white-space:nowrap;transform:scaleY(1.045);transform-origin:0 11.40px;">40</div>
<div style="position:absolute;left:1388.79px;top:101.27px;font:bold 12.60px/14.074px 'Liberation Sans',sans-serif;color:#444;white-space:nowrap;transform:scaleY(1.045);transform-origin:0 11.40px;">50</div>
<div style="position:absolute;left:1374.23px;top:129.72px;font:bold 12.60px/14.074px 'Liberation Sans',sans-serif;color:#444;white-space:nowrap;transform:scaleY(1.045);transform-origin:0 11.40px;">60</div>
<div style="position:absolute;left:1340.74px;top:78.68px;font:normal 9.53px/10.640px 'Liberation Sans',sans-serif;color:#888;white-space:nowrap;transform:scaleY(1.045);transform-origin:0 8.62px;">Vorlauf</div>
<div style="position:absolute;left:1349.46px;top:123.19px;font:bold 10.95px/12.234px 'Liberation Sans',sans-serif;color:#6a6a6a;white-space:nowrap;transform:scaleY(0.75);transform-origin:0 9.91px;">°C</div>
<div style="position:absolute;left:1334.00px;top:149.30px;width:43.20px;height:18.00px;box-sizing:border-box;border:1.2px solid #7a7a7a;border-radius:3px;background:#babab2;"></div>
<div style="position:absolute;left:1336.94px;top:148.52px;font:normal 17.00px/18.989px 'Liberation Sans',sans-serif;color:#444;white-space:nowrap;transform:scaleY(1.045);transform-origin:0 15.38px;letter-spacing:1.5px;-webkit-text-stroke:0.25px #444;">49.0</div>
<svg style="position:absolute;left:1259.60px;top:10.60px;overflow:visible" width="192" height="192" viewBox="1259.60 10.60 192 192">
<g transform="translate(1355.60 106.60) rotate(265.50)">
<defs><linearGradient id="g5n" gradientUnits="userSpaceOnUse" x1="0" y1="0" x2="0" y2="59.5"><stop offset="0" stop-color="#f08080"/><stop offset="1" stop-color="#ffa07a"/></linearGradient></defs>
<polygon points="-3.00,-14.00 -5.20,0.00 -1.80,59.50 1.80,59.50 5.20,0.00 3.00,-14.00" fill="rgba(200,120,120,.55)" stroke="rgba(200,120,120,.45)" stroke-width="3" filter="url(#fBlur3)" transform="translate(0 2)"/>
<polygon points="-3.00,-14.00 -5.20,0.00 -1.80,59.50 1.80,59.50 5.20,0.00 3.00,-14.00" fill="url(#g5n)" fill-opacity="0.9"/>
<polygon points="0.00,-14.00 0.00,59.50 -1.80,59.50 -5.20,0.00 -3.00,-14.00" fill="rgba(2,255,255,.2)"/>
</g>
<circle cx="1355.60" cy="108.10" r="6.6" fill="rgba(0,0,0,.25)" filter="url(#fBlur2)"/>
<circle cx="1355.60" cy="106.60" r="6.5" fill="url(#gHubO)"/>
<circle cx="1355.60" cy="106.60" r="5.3" fill="url(#gHubI)"/>
</svg>
<svg style="position:absolute;left:792.80px;top:520.80px;overflow:visible" width="192" height="192" viewBox="792.80 520.80 192 192">
<circle cx="888.80" cy="617.60" r="83.10" fill="rgba(0,0,0,.45)" filter="url(#fBlur2)"/>
<circle cx="888.80" cy="616.80" r="82.80" fill="url(#gOuter)"/>
<circle cx="888.80" cy="616.80" r="74.90" fill="url(#gMid)"/>
<circle cx="888.80" cy="616.80" r="70.80" fill="url(#gInner)"/>
<circle cx="888.80" cy="616.80" r="69.80" fill="#fff"/>
<path d="M841.99 663.61 A66.20 66.20 0 0 1 841.99 569.99 L851.11 579.11 A53.30 53.30 0 0 0 851.11 654.49 Z" fill="#ff0000"/>
<path d="M841.99 569.99 A66.20 66.20 0 0 1 935.61 663.61 L926.49 654.49 A53.30 53.30 0 0 0 851.11 579.11 Z" fill="#00ff00"/>
<line x1="842.17" y1="654.56" x2="837.51" y2="658.34" stroke="#666" stroke-width="1.5"/>
<line x1="838.48" y1="649.48" x2="833.45" y2="652.75" stroke="#666" stroke-width="1.5"/>
<line x1="835.34" y1="644.04" x2="829.99" y2="646.76" stroke="#666" stroke-width="1.5"/>
<line x1="832.79" y1="638.30" x2="827.18" y2="640.45" stroke="#666" stroke-width="1.5"/>
<line x1="829.54" y1="626.19" x2="823.61" y2="627.12" stroke="#666" stroke-width="1.5"/>
<line x1="828.88" y1="619.94" x2="822.89" y2="620.25" stroke="#666" stroke-width="1.5"/>
<line x1="828.88" y1="613.66" x2="822.89" y2="613.35" stroke="#666" stroke-width="1.5"/>
<line x1="829.54" y1="607.41" x2="823.61" y2="606.48" stroke="#666" stroke-width="1.5"/>
<line x1="832.79" y1="595.30" x2="827.18" y2="593.15" stroke="#666" stroke-width="1.5"/>
<line x1="835.34" y1="589.56" x2="829.99" y2="586.84" stroke="#666" stroke-width="1.5"/>
<line x1="838.48" y1="584.12" x2="833.45" y2="580.85" stroke="#666" stroke-width="1.5"/>
<line x1="842.17" y1="579.04" x2="837.51" y2="575.26" stroke="#666" stroke-width="1.5"/>
<line x1="851.04" y1="570.17" x2="847.26" y2="565.51" stroke="#666" stroke-width="1.5"/>
<line x1="856.12" y1="566.48" x2="852.85" y2="561.45" stroke="#666" stroke-width="1.5"/>
<line x1="861.56" y1="563.34" x2="858.84" y2="557.99" stroke="#666" stroke-width="1.5"/>
<line x1="867.30" y1="560.79" x2="865.15" y2="555.18" stroke="#666" stroke-width="1.5"/>
<line x1="879.41" y1="557.54" x2="878.48" y2="551.61" stroke="#666" stroke-width="1.5"/>
<line x1="885.66" y1="556.88" x2="885.35" y2="550.89" stroke="#666" stroke-width="1.5"/>
<line x1="891.94" y1="556.88" x2="892.25" y2="550.89" stroke="#666" stroke-width="1.5"/>
<line x1="898.19" y1="557.54" x2="899.12" y2="551.61" stroke="#666" stroke-width="1.5"/>
<line x1="910.30" y1="560.79" x2="912.45" y2="555.18" stroke="#666" stroke-width="1.5"/>
<line x1="916.04" y1="563.34" x2="918.76" y2="557.99" stroke="#666" stroke-width="1.5"/>
<line x1="921.48" y1="566.48" x2="924.75" y2="561.45" stroke="#666" stroke-width="1.5"/>
<line x1="926.56" y1="570.17" x2="930.34" y2="565.51" stroke="#666" stroke-width="1.5"/>
<line x1="935.43" y1="579.04" x2="940.09" y2="575.26" stroke="#666" stroke-width="1.5"/>
<line x1="939.12" y1="584.12" x2="944.15" y2="580.85" stroke="#666" stroke-width="1.5"/>
<line x1="942.26" y1="589.56" x2="947.61" y2="586.84" stroke="#666" stroke-width="1.5"/>
<line x1="944.81" y1="595.30" x2="950.42" y2="593.15" stroke="#666" stroke-width="1.5"/>
<line x1="948.06" y1="607.41" x2="953.99" y2="606.48" stroke="#666" stroke-width="1.5"/>
<line x1="948.72" y1="613.66" x2="954.71" y2="613.35" stroke="#666" stroke-width="1.5"/>
<line x1="948.72" y1="619.94" x2="954.71" y2="620.25" stroke="#666" stroke-width="1.5"/>
<line x1="948.06" y1="626.19" x2="953.99" y2="627.12" stroke="#666" stroke-width="1.5"/>
<line x1="944.81" y1="638.30" x2="950.42" y2="640.45" stroke="#666" stroke-width="1.5"/>
<line x1="942.26" y1="644.04" x2="947.61" y2="646.76" stroke="#666" stroke-width="1.5"/>
<line x1="939.12" y1="649.48" x2="944.15" y2="652.75" stroke="#666" stroke-width="1.5"/>
<line x1="935.43" y1="654.56" x2="940.09" y2="658.34" stroke="#666" stroke-width="1.5"/>
<line x1="851.11" y1="654.49" x2="842.13" y2="663.47" stroke="#444" stroke-width="3.6"/>
<line x1="837.32" y1="630.60" x2="825.05" y2="633.88" stroke="#444" stroke-width="3.6"/>
<line x1="837.32" y1="603.00" x2="825.05" y2="599.72" stroke="#444" stroke-width="3.6"/>
<line x1="851.11" y1="579.11" x2="842.13" y2="570.13" stroke="#444" stroke-width="3.6"/>
<line x1="875.00" y1="565.32" x2="871.72" y2="553.05" stroke="#444" stroke-width="3.6"/>
<line x1="902.60" y1="565.32" x2="905.88" y2="553.05" stroke="#444" stroke-width="3.6"/>
<line x1="926.49" y1="579.11" x2="935.47" y2="570.13" stroke="#444" stroke-width="3.6"/>
<line x1="940.28" y1="603.00" x2="952.55" y2="599.72" stroke="#444" stroke-width="3.6"/>
<line x1="940.28" y1="630.60" x2="952.55" y2="633.88" stroke="#444" stroke-width="3.6"/>
<line x1="926.49" y1="654.49" x2="935.47" y2="663.47" stroke="#444" stroke-width="3.6"/>
</svg>
<div style="position:absolute;left:859.71px;top:639.92px;font:bold 12.60px/14.074px 'Liberation Sans',sans-serif;color:#444;white-space:nowrap;transform:scaleY(1.045);transform-origin:0 11.40px;">0</div>
<div style="position:absolute;left:847.12px;top:622.17px;font:bold 12.60px/14.074px 'Liberation Sans',sans-serif;color:#444;white-space:nowrap;transform:scaleY(1.045);transform-origin:0 11.40px;">1</div>
<div style="position:absolute;left:846.01px;top:600.59px;font:bold 12.60px/14.074px 'Liberation Sans',sans-serif;color:#444;white-space:nowrap;transform:scaleY(1.045);transform-origin:0 11.40px;">2</div>
<div style="position:absolute;left:856.09px;top:581.43px;font:bold 12.60px/14.074px 'Liberation Sans',sans-serif;color:#444;white-space:nowrap;transform:scaleY(1.045);transform-origin:0 11.40px;">3</div>
<div style="position:absolute;left:874.40px;top:570.23px;font:bold 12.60px/14.074px 'Liberation Sans',sans-serif;color:#444;white-space:nowrap;transform:scaleY(1.045);transform-origin:0 11.40px;">4</div>
<div style="position:absolute;left:896.08px;top:570.23px;font:bold 12.60px/14.074px 'Liberation Sans',sans-serif;color:#444;white-space:nowrap;transform:scaleY(1.045);transform-origin:0 11.40px;">5</div>
<div style="position:absolute;left:914.58px;top:581.43px;font:bold 12.60px/14.074px 'Liberation Sans',sans-serif;color:#444;white-space:nowrap;transform:scaleY(1.045);transform-origin:0 11.40px;">6</div>
<div style="position:absolute;left:924.66px;top:600.59px;font:bold 12.60px/14.074px 'Liberation Sans',sans-serif;color:#444;white-space:nowrap;transform:scaleY(1.045);transform-origin:0 11.40px;">7</div>
<div style="position:absolute;left:923.24px;top:622.17px;font:bold 12.60px/14.074px 'Liberation Sans',sans-serif;color:#444;white-space:nowrap;transform:scaleY(1.045);transform-origin:0 11.40px;">8</div>
<div style="position:absolute;left:910.90px;top:639.92px;font:bold 12.60px/14.074px 'Liberation Sans',sans-serif;color:#444;white-space:nowrap;transform:scaleY(1.045);transform-origin:0 11.40px;">9</div>
<div style="position:absolute;left:860.37px;top:588.88px;font:normal 9.53px/10.640px 'Liberation Sans',sans-serif;color:#888;white-space:nowrap;transform:scaleY(1.045);transform-origin:0 8.62px;">COP (aktuell)</div>
<div style="position:absolute;left:866.80px;top:659.50px;width:44.00px;height:18.00px;box-sizing:border-box;border:1.2px solid #7a7a7a;border-radius:3px;background:#babab2;"></div>
<div style="position:absolute;left:870.06px;top:658.72px;font:normal 17.00px/18.989px 'Liberation Sans',sans-serif;color:#444;white-space:nowrap;transform:scaleY(1.045);transform-origin:0 15.38px;letter-spacing:1.5px;-webkit-text-stroke:0.25px #444;">3.18</div>
<svg style="position:absolute;left:792.80px;top:520.80px;overflow:visible" width="192" height="192" viewBox="792.80 520.80 192 192">
<g transform="translate(888.80 616.80) rotate(140.40)">
<defs><linearGradient id="g6n" gradientUnits="userSpaceOnUse" x1="0" y1="0" x2="0" y2="59.5"><stop offset="0" stop-color="#f08080"/><stop offset="1" stop-color="#ffa07a"/></linearGradient></defs>
<polygon points="-3.00,-14.00 -5.20,0.00 -1.80,59.50 1.80,59.50 5.20,0.00 3.00,-14.00" fill="rgba(200,120,120,.55)" stroke="rgba(200,120,120,.45)" stroke-width="3" filter="url(#fBlur3)" transform="translate(0 2)"/>
<polygon points="-3.00,-14.00 -5.20,0.00 -1.80,59.50 1.80,59.50 5.20,0.00 3.00,-14.00" fill="url(#g6n)" fill-opacity="0.9"/>
<polygon points="0.00,-14.00 0.00,59.50 -1.80,59.50 -5.20,0.00 -3.00,-14.00" fill="rgba(2,255,255,.2)"/>
</g>
<circle cx="888.80" cy="618.30" r="6.6" fill="rgba(0,0,0,.25)" filter="url(#fBlur2)"/>
<circle cx="888.80" cy="616.80" r="6.5" fill="url(#gHubO)"/>
<circle cx="888.80" cy="616.80" r="5.3" fill="url(#gHubI)"/>
</svg>
<svg style="position:absolute;left:971.00px;top:520.80px;overflow:visible" width="192" height="192" viewBox="971.00 520.80 192 192">
<circle cx="1067.00" cy="617.60" r="83.10" fill="rgba(0,0,0,.45)" filter="url(#fBlur2)"/>
<circle cx="1067.00" cy="616.80" r="82.80" fill="url(#gOuter)"/>
<circle cx="1067.00" cy="616.80" r="74.90" fill="url(#gMid)"/>
<circle cx="1067.00" cy="616.80" r="70.80" fill="url(#gInner)"/>
<circle cx="1067.00" cy="616.80" r="69.80" fill="#fff"/>
<path d="M1020.19 663.61 A66.20 66.20 0 0 1 1020.19 569.99 L1029.31 579.11 A53.30 53.30 0 0 0 1029.31 654.49 Z" fill="#ff0000"/>
<path d="M1020.19 569.99 A66.20 66.20 0 0 1 1113.81 663.61 L1104.69 654.49 A53.30 53.30 0 0 0 1029.31 579.11 Z" fill="#00ff00"/>
<line x1="1020.37" y1="654.56" x2="1015.71" y2="658.34" stroke="#666" stroke-width="1.5"/>
<line x1="1016.68" y1="649.48" x2="1011.65" y2="652.75" stroke="#666" stroke-width="1.5"/>
<line x1="1013.54" y1="644.04" x2="1008.19" y2="646.76" stroke="#666" stroke-width="1.5"/>
<line x1="1010.99" y1="638.30" x2="1005.38" y2="640.45" stroke="#666" stroke-width="1.5"/>
<line x1="1007.74" y1="626.19" x2="1001.81" y2="627.12" stroke="#666" stroke-width="1.5"/>
<line x1="1007.08" y1="619.94" x2="1001.09" y2="620.25" stroke="#666" stroke-width="1.5"/>
<line x1="1007.08" y1="613.66" x2="1001.09" y2="613.35" stroke="#666" stroke-width="1.5"/>
<line x1="1007.74" y1="607.41" x2="1001.81" y2="606.48" stroke="#666" stroke-width="1.5"/>
<line x1="1010.99" y1="595.30" x2="1005.38" y2="593.15" stroke="#666" stroke-width="1.5"/>
<line x1="1013.54" y1="589.56" x2="1008.19" y2="586.84" stroke="#666" stroke-width="1.5"/>
<line x1="1016.68" y1="584.12" x2="1011.65" y2="580.85" stroke="#666" stroke-width="1.5"/>
<line x1="1020.37" y1="579.04" x2="1015.71" y2="575.26" stroke="#666" stroke-width="1.5"/>
<line x1="1029.24" y1="570.17" x2="1025.46" y2="565.51" stroke="#666" stroke-width="1.5"/>
<line x1="1034.32" y1="566.48" x2="1031.05" y2="561.45" stroke="#666" stroke-width="1.5"/>
<line x1="1039.76" y1="563.34" x2="1037.04" y2="557.99" stroke="#666" stroke-width="1.5"/>
<line x1="1045.50" y1="560.79" x2="1043.35" y2="555.18" stroke="#666" stroke-width="1.5"/>
<line x1="1057.61" y1="557.54" x2="1056.68" y2="551.61" stroke="#666" stroke-width="1.5"/>
<line x1="1063.86" y1="556.88" x2="1063.55" y2="550.89" stroke="#666" stroke-width="1.5"/>
<line x1="1070.14" y1="556.88" x2="1070.45" y2="550.89" stroke="#666" stroke-width="1.5"/>
<line x1="1076.39" y1="557.54" x2="1077.32" y2="551.61" stroke="#666" stroke-width="1.5"/>
<line x1="1088.50" y1="560.79" x2="1090.65" y2="555.18" stroke="#666" stroke-width="1.5"/>
<line x1="1094.24" y1="563.34" x2="1096.96" y2="557.99" stroke="#666" stroke-width="1.5"/>
<line x1="1099.68" y1="566.48" x2="1102.95" y2="561.45" stroke="#666" stroke-width="1.5"/>
<line x1="1104.76" y1="570.17" x2="1108.54" y2="565.51" stroke="#666" stroke-width="1.5"/>
<line x1="1113.63" y1="579.04" x2="1118.29" y2="575.26" stroke="#666" stroke-width="1.5"/>
<line x1="1117.32" y1="584.12" x2="1122.35" y2="580.85" stroke="#666" stroke-width="1.5"/>
<line x1="1120.46" y1="589.56" x2="1125.81" y2="586.84" stroke="#666" stroke-width="1.5"/>
<line x1="1123.01" y1="595.30" x2="1128.62" y2="593.15" stroke="#666" stroke-width="1.5"/>
<line x1="1126.26" y1="607.41" x2="1132.19" y2="606.48" stroke="#666" stroke-width="1.5"/>
<line x1="1126.92" y1="613.66" x2="1132.91" y2="613.35" stroke="#666" stroke-width="1.5"/>
<line x1="1126.92" y1="619.94" x2="1132.91" y2="620.25" stroke="#666" stroke-width="1.5"/>
<line x1="1126.26" y1="626.19" x2="1132.19" y2="627.12" stroke="#666" stroke-width="1.5"/>
<line x1="1123.01" y1="638.30" x2="1128.62" y2="640.45" stroke="#666" stroke-width="1.5"/>
<line x1="1120.46" y1="644.04" x2="1125.81" y2="646.76" stroke="#666" stroke-width="1.5"/>
<line x1="1117.32" y1="649.48" x2="1122.35" y2="652.75" stroke="#666" stroke-width="1.5"/>
<line x1="1113.63" y1="654.56" x2="1118.29" y2="658.34" stroke="#666" stroke-width="1.5"/>
<line x1="1029.31" y1="654.49" x2="1020.33" y2="663.47" stroke="#444" stroke-width="3.6"/>
<line x1="1015.52" y1="630.60" x2="1003.25" y2="633.88" stroke="#444" stroke-width="3.6"/>
<line x1="1015.52" y1="603.00" x2="1003.25" y2="599.72" stroke="#444" stroke-width="3.6"/>
<line x1="1029.31" y1="579.11" x2="1020.33" y2="570.13" stroke="#444" stroke-width="3.6"/>
<line x1="1053.20" y1="565.32" x2="1049.92" y2="553.05" stroke="#444" stroke-width="3.6"/>
<line x1="1080.80" y1="565.32" x2="1084.08" y2="553.05" stroke="#444" stroke-width="3.6"/>
<line x1="1104.69" y1="579.11" x2="1113.67" y2="570.13" stroke="#444" stroke-width="3.6"/>
<line x1="1118.48" y1="603.00" x2="1130.75" y2="599.72" stroke="#444" stroke-width="3.6"/>
<line x1="1118.48" y1="630.60" x2="1130.75" y2="633.88" stroke="#444" stroke-width="3.6"/>
<line x1="1104.69" y1="654.49" x2="1113.67" y2="663.47" stroke="#444" stroke-width="3.6"/>
</svg>
<div style="position:absolute;left:1037.91px;top:639.92px;font:bold 12.60px/14.074px 'Liberation Sans',sans-serif;color:#444;white-space:nowrap;transform:scaleY(1.045);transform-origin:0 11.40px;">0</div>
<div style="position:absolute;left:1025.32px;top:622.17px;font:bold 12.60px/14.074px 'Liberation Sans',sans-serif;color:#444;white-space:nowrap;transform:scaleY(1.045);transform-origin:0 11.40px;">1</div>
<div style="position:absolute;left:1024.21px;top:600.59px;font:bold 12.60px/14.074px 'Liberation Sans',sans-serif;color:#444;white-space:nowrap;transform:scaleY(1.045);transform-origin:0 11.40px;">2</div>
<div style="position:absolute;left:1034.29px;top:581.43px;font:bold 12.60px/14.074px 'Liberation Sans',sans-serif;color:#444;white-space:nowrap;transform:scaleY(1.045);transform-origin:0 11.40px;">3</div>
<div style="position:absolute;left:1052.60px;top:570.23px;font:bold 12.60px/14.074px 'Liberation Sans',sans-serif;color:#444;white-space:nowrap;transform:scaleY(1.045);transform-origin:0 11.40px;">4</div>
<div style="position:absolute;left:1074.28px;top:570.23px;font:bold 12.60px/14.074px 'Liberation Sans',sans-serif;color:#444;white-space:nowrap;transform:scaleY(1.045);transform-origin:0 11.40px;">5</div>
<div style="position:absolute;left:1092.78px;top:581.43px;font:bold 12.60px/14.074px 'Liberation Sans',sans-serif;color:#444;white-space:nowrap;transform:scaleY(1.045);transform-origin:0 11.40px;">6</div>
<div style="position:absolute;left:1102.86px;top:600.59px;font:bold 12.60px/14.074px 'Liberation Sans',sans-serif;color:#444;white-space:nowrap;transform:scaleY(1.045);transform-origin:0 11.40px;">7</div>
<div style="position:absolute;left:1101.44px;top:622.17px;font:bold 12.60px/14.074px 'Liberation Sans',sans-serif;color:#444;white-space:nowrap;transform:scaleY(1.045);transform-origin:0 11.40px;">8</div>
<div style="position:absolute;left:1089.10px;top:639.92px;font:bold 12.60px/14.074px 'Liberation Sans',sans-serif;color:#444;white-space:nowrap;transform:scaleY(1.045);transform-origin:0 11.40px;">9</div>
<div style="position:absolute;left:1044.66px;top:588.88px;font:normal 9.53px/10.640px 'Liberation Sans',sans-serif;color:#888;white-space:nowrap;transform:scaleY(1.045);transform-origin:0 8.62px;">COP (Tag)</div>
<div style="position:absolute;left:1045.40px;top:659.50px;width:43.20px;height:18.00px;box-sizing:border-box;border:1.2px solid #7a7a7a;border-radius:3px;background:#babab2;"></div>
<div style="position:absolute;left:1048.09px;top:658.72px;font:normal 17.00px/18.989px 'Liberation Sans',sans-serif;color:#444;white-space:nowrap;transform:scaleY(1.045);transform-origin:0 15.38px;letter-spacing:1.5px;-webkit-text-stroke:0.25px #444;">6.00</div>
<svg style="position:absolute;left:971.00px;top:520.80px;overflow:visible" width="192" height="192" viewBox="971.00 520.80 192 192">
<g transform="translate(1067.00 616.80) rotate(225.00)">
<defs><linearGradient id="g7n" gradientUnits="userSpaceOnUse" x1="0" y1="0" x2="0" y2="59.5"><stop offset="0" stop-color="#f08080"/><stop offset="1" stop-color="#ffa07a"/></linearGradient></defs>
<polygon points="-3.00,-14.00 -5.20,0.00 -1.80,59.50 1.80,59.50 5.20,0.00 3.00,-14.00" fill="rgba(200,120,120,.55)" stroke="rgba(200,120,120,.45)" stroke-width="3" filter="url(#fBlur3)" transform="translate(0 2)"/>
<polygon points="-3.00,-14.00 -5.20,0.00 -1.80,59.50 1.80,59.50 5.20,0.00 3.00,-14.00" fill="url(#g7n)" fill-opacity="0.9"/>
<polygon points="0.00,-14.00 0.00,59.50 -1.80,59.50 -5.20,0.00 -3.00,-14.00" fill="rgba(2,255,255,.2)"/>
</g>
<circle cx="1067.00" cy="618.30" r="6.6" fill="rgba(0,0,0,.25)" filter="url(#fBlur2)"/>
<circle cx="1067.00" cy="616.80" r="6.5" fill="url(#gHubO)"/>
<circle cx="1067.00" cy="616.80" r="5.3" fill="url(#gHubI)"/>
</svg>
<div style="position:absolute;left:619.27px;top:195.58px;font:normal 22.23px/24.832px 'Liberation Sans',sans-serif;color:#fff;white-space:nowrap;transform:scaleY(1.045);transform-origin:0 20.12px;">außen</div>
<div style="position:absolute;left:791.10px;top:195.58px;font:normal 22.23px/24.832px 'Liberation Sans',sans-serif;color:#fff;white-space:nowrap;transform:scaleY(1.045);transform-origin:0 20.12px;">Druck</div>
<div style="position:absolute;left:962.06px;top:195.58px;font:normal 22.23px/24.832px 'Liberation Sans',sans-serif;color:#fff;white-space:nowrap;transform:scaleY(1.045);transform-origin:0 20.12px;">Wasser</div>
<div style="position:absolute;left:1143.32px;top:195.58px;font:normal 22.23px/24.832px 'Liberation Sans',sans-serif;color:#fff;white-space:nowrap;transform:scaleY(1.045);transform-origin:0 20.12px;">Vorlauf</div>
<div style="position:absolute;left:1312.57px;top:195.58px;font:normal 22.23px/24.832px 'Liberation Sans',sans-serif;color:#fff;white-space:nowrap;transform:scaleY(1.045);transform-origin:0 20.12px;">Rücklauf</div>
<div style="position:absolute;left:857.01px;top:706.18px;font:normal 22.23px/24.832px 'Liberation Sans',sans-serif;color:#fff;white-space:nowrap;transform:scaleY(1.045);transform-origin:0 20.12px;">aktuell</div>
<div style="position:absolute;left:1030.91px;top:706.18px;font:normal 22.23px/24.832px 'Liberation Sans',sans-serif;color:#fff;white-space:nowrap;transform:scaleY(1.045);transform-origin:0 20.12px;">gesamt</div>
<svg style="position:absolute;left:0;top:0;overflow:visible" width="1456" height="1254" viewBox="0 0 1456 1254">
<g fill="none" stroke="#ffffff" stroke-width="3.1" stroke-linejoin="miter">
<path d="M113.3 817.3 H85.1 Q77.5 818.5 74.7 827.3 V851.5 L83.8 861.2 H113.3 Q120.6 861.2 120.6 852.4 V826 Q120.6 817.3 113.3 817.3 Z"/>
<path d="M112.2 818.5 V860"/>
<path d="M84.8 818.5 V860"/>
<path d="M86.5 822.3 H109" stroke-width="3.3"/>
<path d="M86.5 829.1 H109" stroke-width="3.3"/>
<path d="M86.5 835.9 H109" stroke-width="3.3"/>
<path d="M86.5 842.7 H109" stroke-width="3.3"/>
<path d="M86.5 849.5 H109" stroke-width="3.3"/>
<path d="M86.5 856.4 H109" stroke-width="3.3"/>
<rect x="52.3" y="805.1" width="19" height="5.3"/>
<path d="M55.8 810.5 V854.3 M67.9 810.5 V838.8 M67.9 825.5 H75 M63.5 853 H75 M47.5 834.2 H55.8 M47.5 846 H55.8"/>
<rect x="42.5" y="830.8" width="4.9" height="18.6"/>
</g>
<path d="M41.5 872.5 L121.5 792.7" stroke="#333" stroke-width="8"/>
<path d="M41.5 872.5 L121.5 792.7" stroke="#ffffff" stroke-width="3" stroke-linecap="round"/>
<g fill="none" stroke="#f3f2ea" stroke-width="2.7">
<rect x="215.5" y="814.2" width="7.4" height="31.7"/>
<path d="M223 824.1 H234.6 M223 836.3 H234.6"/>
<circle cx="244.8" cy="831" r="10.6"/>
<path d="M239.4 832.8 A5.6 5.6 0 0 0 250.6 832.8" stroke-width="2.2"/>
<path d="M242.4 808.3 V820 M247.4 808.3 V820"/>
<rect x="242.5" y="798.2" width="5.1" height="2.9"/>
<path d="M234.8 801.5 L254.7 801.5 A5.4 5.4 0 1 1 254.7 807.1 L234.8 807.1 A5.4 5.4 0 1 1 234.8 801.5 Z"/>
<path d="M254.5 824.1 A18.6 18.6 0 0 1 273.6 842.7 V852.2 H261.6 V842.7 A6.4 6.4 0 0 0 254.5 836.3"/>
</g>
</svg>
<div style="position:absolute;left:33.48px;top:896.64px;font:normal 20.62px/23.032px 'Liberation Sans',sans-serif;color:#fff;white-space:nowrap;transform:scaleY(1.045);transform-origin:0 18.66px;">Zirkulation</div>
<div style="position:absolute;left:192.20px;top:896.81px;font:normal 20.43px/22.824px 'Liberation Sans',sans-serif;color:#fff;white-space:nowrap;transform:scaleY(1.045);transform-origin:0 18.49px;">Warmwasser</div>
<div style="position:absolute;left:645.34px;top:781.12px;font:bold 32.35px/36.136px 'Liberation Sans',sans-serif;color:#efeff7;white-space:nowrap;transform:scaleY(1.045);transform-origin:0 29.28px;">Energien: Warmwasser, Heizung</div>
<div style="position:absolute;left:459.90px;top:820.80px;width:42.30px;height:22.80px;box-sizing:border-box;background:#0000ff;border-radius:4px;"></div>
<div style="position:absolute;left:510.90px;top:820.59px;font:normal 20.45px/22.846px 'Liberation Sans',sans-serif;color:#c9c6dc;white-space:nowrap;transform:scaleY(1.045);transform-origin:0 18.51px;">Wasser (primär)</div>
<div style="position:absolute;left:673.20px;top:820.80px;width:42.30px;height:22.80px;box-sizing:border-box;background:#ff0000;border-radius:4px;"></div>
<div style="position:absolute;left:724.20px;top:820.57px;font:normal 20.48px/22.872px 'Liberation Sans',sans-serif;color:#c9c6dc;white-space:nowrap;transform:scaleY(1.045);transform-origin:0 18.53px;">Wasser (erzeugt)</div>
<div style="position:absolute;left:897.40px;top:820.80px;width:42.30px;height:22.80px;box-sizing:border-box;background:#8080ff;border-radius:4px;"></div>
<div style="position:absolute;left:946.24px;top:820.37px;font:normal 20.70px/23.120px 'Liberation Sans',sans-serif;color:#c9c6dc;white-space:nowrap;transform:scaleY(1.045);transform-origin:0 18.73px;">Heizung (primär)</div>
<div style="position:absolute;left:1117.00px;top:820.80px;width:42.30px;height:22.80px;box-sizing:border-box;background:#ff8080;border-radius:4px;"></div>
<div style="position:absolute;left:1166.56px;top:820.50px;font:normal 20.55px/22.955px 'Liberation Sans',sans-serif;color:#c9c6dc;white-space:nowrap;transform:scaleY(1.045);transform-origin:0 18.60px;">Heizung (erzeugt)</div>
<svg style="position:absolute;left:0;top:0;overflow:visible" width="1456" height="1254" viewBox="0 0 1456 1254">
<rect x="438.10" y="1191.50" width="9.70" height="7.10" fill="#0000ff"/>
<rect x="438.10" y="1166.70" width="9.70" height="24.80" fill="#ff0000"/>
<rect x="450.70" y="1157.30" width="9.30" height="41.30" fill="#8080ff"/>
<rect x="450.70" y="901.50" width="9.30" height="255.80" fill="#ff8080"/>
<rect x="468.40" y="1193.00" width="9.60" height="5.60" fill="#0000ff"/>
<rect x="468.40" y="1174.90" width="9.60" height="18.10" fill="#ff0000"/>
<rect x="481.00" y="1181.00" width="9.40" height="17.60" fill="#8080ff"/>
<rect x="481.00" y="1062.50" width="9.40" height="118.50" fill="#ff8080"/>
<rect x="464.30" y="868.30" width="30.30" height="330.30" fill="rgba(255,255,255,0.15)"/>
<line x1="433.60" y1="1132.50" x2="1378.40" y2="1132.50" stroke="rgba(255,255,255,0.25)" stroke-width="1.3"/>
<line x1="433.60" y1="1066.40" x2="1378.40" y2="1066.40" stroke="rgba(255,255,255,0.25)" stroke-width="1.3"/>
<line x1="433.60" y1="1000.30" x2="1378.40" y2="1000.30" stroke="rgba(255,255,255,0.25)" stroke-width="1.3"/>
<line x1="433.60" y1="934.20" x2="1378.40" y2="934.20" stroke="rgba(255,255,255,0.25)" stroke-width="1.3"/>
<line x1="433.60" y1="868.10" x2="1378.40" y2="868.10" stroke="rgba(255,255,255,0.25)" stroke-width="1.3"/>
<line x1="432.60" y1="1198.80" x2="1379.40" y2="1198.80" stroke="#c9c4e0" stroke-width="2"/>
<line x1="433.60" y1="1198.60" x2="433.60" y2="1206.60" stroke="#c9c4e0" stroke-width="2"/>
<line x1="464.08" y1="1198.60" x2="464.08" y2="1206.60" stroke="#c9c4e0" stroke-width="2"/>
<line x1="494.55" y1="1198.60" x2="494.55" y2="1206.60" stroke="#c9c4e0" stroke-width="2"/>
<line x1="525.03" y1="1198.60" x2="525.03" y2="1206.60" stroke="#c9c4e0" stroke-width="2"/>
<line x1="555.51" y1="1198.60" x2="555.51" y2="1206.60" stroke="#c9c4e0" stroke-width="2"/>
<line x1="585.99" y1="1198.60" x2="585.99" y2="1206.60" stroke="#c9c4e0" stroke-width="2"/>
<line x1="616.46" y1="1198.60" x2="616.46" y2="1206.60" stroke="#c9c4e0" stroke-width="2"/>
<line x1="646.94" y1="1198.60" x2="646.94" y2="1206.60" stroke="#c9c4e0" stroke-width="2"/>
<line x1="677.42" y1="1198.60" x2="677.42" y2="1206.60" stroke="#c9c4e0" stroke-width="2"/>
<line x1="707.90" y1="1198.60" x2="707.90" y2="1206.60" stroke="#c9c4e0" stroke-width="2"/>
<line x1="738.37" y1="1198.60" x2="738.37" y2="1206.60" stroke="#c9c4e0" stroke-width="2"/>
<line x1="768.85" y1="1198.60" x2="768.85" y2="1206.60" stroke="#c9c4e0" stroke-width="2"/>
<line x1="799.33" y1="1198.60" x2="799.33" y2="1206.60" stroke="#c9c4e0" stroke-width="2"/>
<line x1="829.81" y1="1198.60" x2="829.81" y2="1206.60" stroke="#c9c4e0" stroke-width="2"/>
<line x1="860.28" y1="1198.60" x2="860.28" y2="1206.60" stroke="#c9c4e0" stroke-width="2"/>
<line x1="890.76" y1="1198.60" x2="890.76" y2="1206.60" stroke="#c9c4e0" stroke-width="2"/>
<line x1="921.24" y1="1198.60" x2="921.24" y2="1206.60" stroke="#c9c4e0" stroke-width="2"/>
<line x1="951.72" y1="1198.60" x2="951.72" y2="1206.60" stroke="#c9c4e0" stroke-width="2"/>
<line x1="982.19" y1="1198.60" x2="982.19" y2="1206.60" stroke="#c9c4e0" stroke-width="2"/>
<line x1="1012.67" y1="1198.60" x2="1012.67" y2="1206.60" stroke="#c9c4e0" stroke-width="2"/>
<line x1="1043.15" y1="1198.60" x2="1043.15" y2="1206.60" stroke="#c9c4e0" stroke-width="2"/>
<line x1="1073.63" y1="1198.60" x2="1073.63" y2="1206.60" stroke="#c9c4e0" stroke-width="2"/>
<line x1="1104.10" y1="1198.60" x2="1104.10" y2="1206.60" stroke="#c9c4e0" stroke-width="2"/>
<line x1="1134.58" y1="1198.60" x2="1134.58" y2="1206.60" stroke="#c9c4e0" stroke-width="2"/>
<line x1="1165.06" y1="1198.60" x2="1165.06" y2="1206.60" stroke="#c9c4e0" stroke-width="2"/>
<line x1="1195.54" y1="1198.60" x2="1195.54" y2="1206.60" stroke="#c9c4e0" stroke-width="2"/>
<line x1="1226.01" y1="1198.60" x2="1226.01" y2="1206.60" stroke="#c9c4e0" stroke-width="2"/>
<line x1="1256.49" y1="1198.60" x2="1256.49" y2="1206.60" stroke="#c9c4e0" stroke-width="2"/>
<line x1="1286.97" y1="1198.60" x2="1286.97" y2="1206.60" stroke="#c9c4e0" stroke-width="2"/>
<line x1="1317.45" y1="1198.60" x2="1317.45" y2="1206.60" stroke="#c9c4e0" stroke-width="2"/>
<line x1="1347.92" y1="1198.60" x2="1347.92" y2="1206.60" stroke="#c9c4e0" stroke-width="2"/>
<line x1="1378.40" y1="1198.60" x2="1378.40" y2="1206.60" stroke="#c9c4e0" stroke-width="2"/>
</svg>
<div style="position:absolute;left:368.21px;top:1190.18px;font:normal 17.48px/19.523px 'Liberation Sans',sans-serif;color:#c9c6dc;white-space:nowrap;transform:scaleY(1.045);transform-origin:0 15.82px;">0 KWh</div>
<div style="position:absolute;left:358.60px;top:1124.08px;font:normal 17.48px/19.523px 'Liberation Sans',sans-serif;color:#c9c6dc;white-space:nowrap;transform:scaleY(1.045);transform-origin:0 15.82px;">10 KWh</div>
<div style="position:absolute;left:358.60px;top:1057.98px;font:normal 17.48px/19.523px 'Liberation Sans',sans-serif;color:#c9c6dc;white-space:nowrap;transform:scaleY(1.045);transform-origin:0 15.82px;">20 KWh</div>
<div style="position:absolute;left:358.60px;top:991.88px;font:normal 17.48px/19.523px 'Liberation Sans',sans-serif;color:#c9c6dc;white-space:nowrap;transform:scaleY(1.045);transform-origin:0 15.82px;">30 KWh</div>
<div style="position:absolute;left:358.60px;top:925.78px;font:normal 17.48px/19.523px 'Liberation Sans',sans-serif;color:#c9c6dc;white-space:nowrap;transform:scaleY(1.045);transform-origin:0 15.82px;">40 KWh</div>
<div style="position:absolute;left:358.60px;top:859.68px;font:normal 17.48px/19.523px 'Liberation Sans',sans-serif;color:#c9c6dc;white-space:nowrap;transform:scaleY(1.045);transform-origin:0 15.82px;">50 KWh</div>
<div style="position:absolute;left:443.68px;top:1212.78px;font:normal 17.48px/19.523px 'Liberation Sans',sans-serif;color:#c9c6dc;white-space:nowrap;transform:scaleY(1.045);transform-origin:0 15.82px;">1</div>
<div style="position:absolute;left:474.42px;top:1212.78px;font:normal 17.48px/19.523px 'Liberation Sans',sans-serif;color:#c9c6dc;white-space:nowrap;transform:scaleY(1.045);transform-origin:0 15.82px;">2</div>
<div style="position:absolute;left:504.99px;top:1212.78px;font:normal 17.48px/19.523px 'Liberation Sans',sans-serif;color:#c9c6dc;white-space:nowrap;transform:scaleY(1.045);transform-origin:0 15.82px;">3</div>
<div style="position:absolute;left:535.46px;top:1212.78px;font:normal 17.48px/19.523px 'Liberation Sans',sans-serif;color:#c9c6dc;white-space:nowrap;transform:scaleY(1.045);transform-origin:0 15.82px;">4</div>
<div style="position:absolute;left:565.94px;top:1212.78px;font:normal 17.48px/19.523px 'Liberation Sans',sans-serif;color:#c9c6dc;white-space:nowrap;transform:scaleY(1.045);transform-origin:0 15.82px;">5</div>
<div style="position:absolute;left:596.33px;top:1212.78px;font:normal 17.48px/19.523px 'Liberation Sans',sans-serif;color:#c9c6dc;white-space:nowrap;transform:scaleY(1.045);transform-origin:0 15.82px;">6</div>
<div style="position:absolute;left:626.81px;top:1212.78px;font:normal 17.48px/19.523px 'Liberation Sans',sans-serif;color:#c9c6dc;white-space:nowrap;transform:scaleY(1.045);transform-origin:0 15.82px;">7</div>
<div style="position:absolute;left:657.37px;top:1212.78px;font:normal 17.48px/19.523px 'Liberation Sans',sans-serif;color:#c9c6dc;white-space:nowrap;transform:scaleY(1.045);transform-origin:0 15.82px;">8</div>
<div style="position:absolute;left:687.76px;top:1212.78px;font:normal 17.48px/19.523px 'Liberation Sans',sans-serif;color:#c9c6dc;white-space:nowrap;transform:scaleY(1.045);transform-origin:0 15.82px;">9</div>
<div style="position:absolute;left:713.09px;top:1212.78px;font:normal 17.48px/19.523px 'Liberation Sans',sans-serif;color:#c9c6dc;white-space:nowrap;transform:scaleY(1.045);transform-origin:0 15.82px;">10</div>
<div style="position:absolute;left:744.26px;top:1212.78px;font:normal 17.48px/19.523px 'Liberation Sans',sans-serif;color:#c9c6dc;white-space:nowrap;transform:scaleY(1.045);transform-origin:0 15.82px;">11</div>
<div style="position:absolute;left:774.13px;top:1212.78px;font:normal 17.48px/19.523px 'Liberation Sans',sans-serif;color:#c9c6dc;white-space:nowrap;transform:scaleY(1.045);transform-origin:0 15.82px;">12</div>
<div style="position:absolute;left:804.52px;top:1212.78px;font:normal 17.48px/19.523px 'Liberation Sans',sans-serif;color:#c9c6dc;white-space:nowrap;transform:scaleY(1.045);transform-origin:0 15.82px;">13</div>
<div style="position:absolute;left:834.91px;top:1212.78px;font:normal 17.48px/19.523px 'Liberation Sans',sans-serif;color:#c9c6dc;white-space:nowrap;transform:scaleY(1.045);transform-origin:0 15.82px;">14</div>
<div style="position:absolute;left:865.47px;top:1212.78px;font:normal 17.48px/19.523px 'Liberation Sans',sans-serif;color:#c9c6dc;white-space:nowrap;transform:scaleY(1.045);transform-origin:0 15.82px;">15</div>
<div style="position:absolute;left:895.95px;top:1212.78px;font:normal 17.48px/19.523px 'Liberation Sans',sans-serif;color:#c9c6dc;white-space:nowrap;transform:scaleY(1.045);transform-origin:0 15.82px;">16</div>
<div style="position:absolute;left:926.51px;top:1212.78px;font:normal 17.48px/19.523px 'Liberation Sans',sans-serif;color:#c9c6dc;white-space:nowrap;transform:scaleY(1.045);transform-origin:0 15.82px;">17</div>
<div style="position:absolute;left:956.90px;top:1212.78px;font:normal 17.48px/19.523px 'Liberation Sans',sans-serif;color:#c9c6dc;white-space:nowrap;transform:scaleY(1.045);transform-origin:0 15.82px;">18</div>
<div style="position:absolute;left:987.47px;top:1212.78px;font:normal 17.48px/19.523px 'Liberation Sans',sans-serif;color:#c9c6dc;white-space:nowrap;transform:scaleY(1.045);transform-origin:0 15.82px;">19</div>
<div style="position:absolute;left:1018.12px;top:1212.78px;font:normal 17.48px/19.523px 'Liberation Sans',sans-serif;color:#c9c6dc;white-space:nowrap;transform:scaleY(1.045);transform-origin:0 15.82px;">20</div>
<div style="position:absolute;left:1048.69px;top:1212.78px;font:normal 17.48px/19.523px 'Liberation Sans',sans-serif;color:#c9c6dc;white-space:nowrap;transform:scaleY(1.045);transform-origin:0 15.82px;">21</div>
<div style="position:absolute;left:1079.16px;top:1212.78px;font:normal 17.48px/19.523px 'Liberation Sans',sans-serif;color:#c9c6dc;white-space:nowrap;transform:scaleY(1.045);transform-origin:0 15.82px;">22</div>
<div style="position:absolute;left:1109.55px;top:1212.78px;font:normal 17.48px/19.523px 'Liberation Sans',sans-serif;color:#c9c6dc;white-space:nowrap;transform:scaleY(1.045);transform-origin:0 15.82px;">23</div>
<div style="position:absolute;left:1139.94px;top:1212.78px;font:normal 17.48px/19.523px 'Liberation Sans',sans-serif;color:#c9c6dc;white-space:nowrap;transform:scaleY(1.045);transform-origin:0 15.82px;">24</div>
<div style="position:absolute;left:1170.51px;top:1212.78px;font:normal 17.48px/19.523px 'Liberation Sans',sans-serif;color:#c9c6dc;white-space:nowrap;transform:scaleY(1.045);transform-origin:0 15.82px;">25</div>
<div style="position:absolute;left:1200.99px;top:1212.78px;font:normal 17.48px/19.523px 'Liberation Sans',sans-serif;color:#c9c6dc;white-space:nowrap;transform:scaleY(1.045);transform-origin:0 15.82px;">26</div>
<div style="position:absolute;left:1231.55px;top:1212.78px;font:normal 17.48px/19.523px 'Liberation Sans',sans-serif;color:#c9c6dc;white-space:nowrap;transform:scaleY(1.045);transform-origin:0 15.82px;">27</div>
<div style="position:absolute;left:1261.94px;top:1212.78px;font:normal 17.48px/19.523px 'Liberation Sans',sans-serif;color:#c9c6dc;white-space:nowrap;transform:scaleY(1.045);transform-origin:0 15.82px;">28</div>
<div style="position:absolute;left:1292.51px;top:1212.78px;font:normal 17.48px/19.523px 'Liberation Sans',sans-serif;color:#c9c6dc;white-space:nowrap;transform:scaleY(1.045);transform-origin:0 15.82px;">29</div>
<div style="position:absolute;left:1322.98px;top:1212.78px;font:normal 17.48px/19.523px 'Liberation Sans',sans-serif;color:#c9c6dc;white-space:nowrap;transform:scaleY(1.045);transform-origin:0 15.82px;">30</div>
<div style="position:absolute;left:1353.55px;top:1212.78px;font:normal 17.48px/19.523px 'Liberation Sans',sans-serif;color:#c9c6dc;white-space:nowrap;transform:scaleY(1.045);transform-origin:0 15.82px;">31</div>
<div style="position:absolute;left:1403.03px;top:1191.53px;font:bold 16.87px/18.845px 'Liberation Sans',sans-serif;color:#f4f4f8;white-space:nowrap;transform:scaleY(1.045);transform-origin:0 15.27px;">Tag</div>
<div style="position:absolute;left:526.80px;top:891.80px;width:314.60px;height:216.50px;box-sizing:border-box;background:#fff;border-radius:6px;box-shadow:0 1px 4px rgba(0,0,0,.25);"></div>
<div style="position:absolute;left:544.75px;top:904.80px;font:normal 26.96px/30.110px 'Liberation Sans',sans-serif;color:#666;white-space:nowrap;transform:scaleY(1.045);transform-origin:0 24.40px;">2</div>
<div style="position:absolute;left:545.90px;top:951.20px;width:17.2px;height:17.2px;border-radius:50%;background:#0000ff"></div>
<div style="position:absolute;left:573.06px;top:946.20px;font:normal 23.75px/26.533px 'Liberation Sans',sans-serif;color:#666;white-space:nowrap;transform:scaleY(1.045);transform-origin:0 21.50px;">Wasser (primär)</div>
<div style="position:absolute;left:788.74px;top:945.90px;font:bold 24.09px/26.910px 'Liberation Sans',sans-serif;color:#666;white-space:nowrap;transform:scaleY(1.045);transform-origin:0 21.80px;">0.8</div>
<div style="position:absolute;left:545.90px;top:990.20px;width:17.2px;height:17.2px;border-radius:50%;background:#ff0000"></div>
<div style="position:absolute;left:573.06px;top:985.27px;font:normal 23.68px/26.447px 'Liberation Sans',sans-serif;color:#666;white-space:nowrap;transform:scaleY(1.045);transform-origin:0 21.43px;">Wasser (erzeugt)</div>
<div style="position:absolute;left:788.74px;top:984.90px;font:bold 24.09px/26.910px 'Liberation Sans',sans-serif;color:#666;white-space:nowrap;transform:scaleY(1.045);transform-origin:0 21.80px;">2.8</div>
<div style="position:absolute;left:545.90px;top:1028.90px;width:17.2px;height:17.2px;border-radius:50%;background:#8080ff"></div>
<div style="position:absolute;left:571.38px;top:1023.73px;font:normal 24.05px/26.869px 'Liberation Sans',sans-serif;color:#666;white-space:nowrap;transform:scaleY(1.045);transform-origin:0 21.77px;">Heizung (primär)</div>
<div style="position:absolute;left:788.98px;top:1023.70px;font:bold 24.09px/26.910px 'Liberation Sans',sans-serif;color:#666;white-space:nowrap;transform:scaleY(1.045);transform-origin:0 21.80px;">2.6</div>
<div style="position:absolute;left:545.90px;top:1068.60px;width:17.2px;height:17.2px;border-radius:50%;background:#ff8080"></div>
<div style="position:absolute;left:571.38px;top:1062.83px;font:normal 23.94px/26.745px 'Liberation Sans',sans-serif;color:#666;white-space:nowrap;transform:scaleY(1.045);transform-origin:0 21.67px;">Heizung (erzeugt)</div>
<div style="position:absolute;left:795.48px;top:1062.70px;font:bold 24.09px/26.910px 'Liberation Sans',sans-serif;color:#666;white-space:nowrap;transform:scaleY(1.045);transform-origin:0 21.80px;">18</div>
</body></html>
